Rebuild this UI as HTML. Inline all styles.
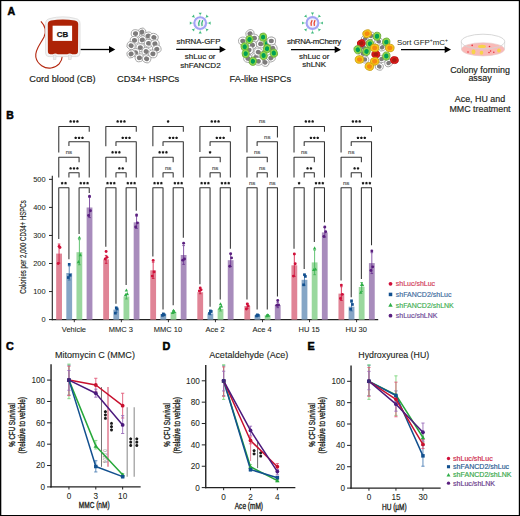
<!DOCTYPE html>
<html><head><meta charset="utf-8"><style>
html,body{margin:0;padding:0;background:#fff;}
svg{display:block;}
svg text{font-family:"Liberation Sans",sans-serif;}
</style></head><body>
<svg width="520" height="516" viewBox="0 0 520 516">
<rect x="0" y="0" width="520" height="516" fill="#fff"/>
<text x="7.40" y="14.70" font-size="10.6" fill="#000" stroke="#000" stroke-width="0.5" text-anchor="start" font-weight="bold" >A</text>
<g>
<path d="M40.9,21.3 C45.5,26 46.5,31.5 44,37 C40.5,44 34.5,50 35.8,57 C37.2,64.5 45,69 51,68 C58,67 62,62 62.3,56" fill="none" stroke="#b52a12" stroke-width="1.15"/>
<path d="M45.6,23.5 Q45.6,19.5 50,18.5 Q62.8,15.2 75.5,18.5 Q80,19.5 80,23.5 L80,53 Q80,56.6 76.5,56.6 L49,56.6 Q45.6,56.6 45.6,53 Z" fill="#f4f4f4" stroke="#dcdcdc" stroke-width="0.9"/>
<rect x="53.2" y="55" width="2.8" height="4.6" fill="#ececec" stroke="#d2d2d2" stroke-width="0.5"/>
<rect x="68.4" y="55" width="2.8" height="4.6" fill="#ececec" stroke="#d2d2d2" stroke-width="0.5"/>
<path d="M47.8,24 Q47.8,21.2 51,20.6 Q62.8,18.2 74.8,20.6 Q78.2,21.2 78.2,24 L78,51.3 Q78,54.3 75.2,54.3 L72.3,54.3 Q69.8,52.8 67.3,54.3 L57.8,54.3 Q55.3,52.8 52.8,54.3 L50.6,54.3 Q47.9,54.3 47.9,51.3 Z" fill="#ad2306"/>
<rect x="52.6" y="25.7" width="19.5" height="15.2" fill="#fff"/>
<text x="62.50" y="36.90" font-size="7.9" fill="#111" stroke="#111" stroke-width="0.25" text-anchor="middle" font-weight="bold" >CB</text>
</g>
<text x="29.30" y="82.40" font-size="9.2" fill="#231f20" stroke="#231f20" stroke-width="0.18" text-anchor="start" font-weight="normal" >Cord blood (CB)</text>
<line x1="80.7" y1="49.5" x2="109.5" y2="49.5" stroke="#000" stroke-width="1.3"/>
<path d="M109.0,46.1 L115.3,49.5 L109.0,52.9 Z" fill="#000"/>
<g transform="translate(141.80,32.10) rotate(-30)"><ellipse rx="4.3" ry="3.9" fill="#ffffff" stroke="#9b9b9b" stroke-width="0.8"/><ellipse rx="2.58" ry="2.34" fill="#7d7b7b"/></g>
<g transform="translate(135.50,33.60) rotate(7)"><ellipse rx="4.3" ry="3.9" fill="#ffffff" stroke="#9b9b9b" stroke-width="0.8"/><ellipse rx="2.58" ry="2.34" fill="#7d7b7b"/></g>
<g transform="translate(148.10,36.00) rotate(-16)"><ellipse rx="4.3" ry="3.9" fill="#ffffff" stroke="#9b9b9b" stroke-width="0.8"/><ellipse rx="2.58" ry="2.34" fill="#7d7b7b"/></g>
<g transform="translate(153.90,37.40) rotate(21)"><ellipse rx="4.3" ry="3.9" fill="#ffffff" stroke="#9b9b9b" stroke-width="0.8"/><ellipse rx="2.58" ry="2.34" fill="#7d7b7b"/></g>
<g transform="translate(134.50,40.30) rotate(-2)"><ellipse rx="4.3" ry="3.9" fill="#ffffff" stroke="#9b9b9b" stroke-width="0.8"/><ellipse rx="2.58" ry="2.34" fill="#7d7b7b"/></g>
<g transform="translate(142.30,39.90) rotate(-25)"><ellipse rx="4.3" ry="3.9" fill="#ffffff" stroke="#9b9b9b" stroke-width="0.8"/><ellipse rx="2.58" ry="2.34" fill="#7d7b7b"/></g>
<g transform="translate(148.60,43.30) rotate(12)"><ellipse rx="4.3" ry="3.9" fill="#ffffff" stroke="#9b9b9b" stroke-width="0.8"/><ellipse rx="2.58" ry="2.34" fill="#7d7b7b"/></g>
<g transform="translate(154.90,43.70) rotate(-11)"><ellipse rx="4.3" ry="3.9" fill="#ffffff" stroke="#9b9b9b" stroke-width="0.8"/><ellipse rx="2.58" ry="2.34" fill="#7d7b7b"/></g>
<g transform="translate(131.10,45.70) rotate(26)"><ellipse rx="4.3" ry="3.9" fill="#ffffff" stroke="#9b9b9b" stroke-width="0.8"/><ellipse rx="2.58" ry="2.34" fill="#7d7b7b"/></g>
<g transform="translate(140.30,47.60) rotate(3)"><ellipse rx="4.3" ry="3.9" fill="#ffffff" stroke="#9b9b9b" stroke-width="0.8"/><ellipse rx="2.58" ry="2.34" fill="#7d7b7b"/></g>
<g transform="translate(156.80,49.10) rotate(-20)"><ellipse rx="4.3" ry="3.9" fill="#ffffff" stroke="#9b9b9b" stroke-width="0.8"/><ellipse rx="2.58" ry="2.34" fill="#7d7b7b"/></g>
<g transform="translate(146.20,51.50) rotate(17)"><ellipse rx="4.3" ry="3.9" fill="#ffffff" stroke="#9b9b9b" stroke-width="0.8"/><ellipse rx="2.58" ry="2.34" fill="#7d7b7b"/></g>
<g transform="translate(135.50,52.50) rotate(-6)"><ellipse rx="4.3" ry="3.9" fill="#ffffff" stroke="#9b9b9b" stroke-width="0.8"/><ellipse rx="2.58" ry="2.34" fill="#7d7b7b"/></g>
<g transform="translate(131.10,53.90) rotate(-29)"><ellipse rx="4.3" ry="3.9" fill="#ffffff" stroke="#9b9b9b" stroke-width="0.8"/><ellipse rx="2.58" ry="2.34" fill="#7d7b7b"/></g>
<g transform="translate(152.90,53.90) rotate(8)"><ellipse rx="4.3" ry="3.9" fill="#ffffff" stroke="#9b9b9b" stroke-width="0.8"/><ellipse rx="2.58" ry="2.34" fill="#7d7b7b"/></g>
<g transform="translate(139.40,57.80) rotate(-15)"><ellipse rx="4.3" ry="3.9" fill="#ffffff" stroke="#9b9b9b" stroke-width="0.8"/><ellipse rx="2.58" ry="2.34" fill="#7d7b7b"/></g>
<g transform="translate(146.60,58.80) rotate(22)"><ellipse rx="4.3" ry="3.9" fill="#ffffff" stroke="#9b9b9b" stroke-width="0.8"/><ellipse rx="2.58" ry="2.34" fill="#7d7b7b"/></g>
<text x="117.00" y="82.20" font-size="9.3" fill="#231f20" stroke="#231f20" stroke-width="0.18" text-anchor="start" font-weight="normal" >CD34+ HSPCs</text>
<line x1="200.20" y1="17.10" x2="200.20" y2="14.60" stroke="#8fdcae" stroke-width="0.6"/>
<path d="M200.20,15.10 L201.80,12.70 L198.60,12.70 Z" fill="#41bb7f"/>
<line x1="204.44" y1="18.86" x2="206.21" y2="17.09" stroke="#8fdcae" stroke-width="0.6"/>
<path d="M205.86,17.44 L208.69,16.88 L206.42,14.61 Z" fill="#41bb7f"/>
<line x1="206.20" y1="23.10" x2="208.70" y2="23.10" stroke="#8fdcae" stroke-width="0.6"/>
<path d="M208.20,23.10 L210.60,24.70 L210.60,21.50 Z" fill="#41bb7f"/>
<line x1="204.44" y1="27.34" x2="206.21" y2="29.11" stroke="#8fdcae" stroke-width="0.6"/>
<path d="M205.86,28.76 L206.42,31.59 L208.69,29.32 Z" fill="#41bb7f"/>
<line x1="200.20" y1="29.10" x2="200.20" y2="31.60" stroke="#8fdcae" stroke-width="0.6"/>
<path d="M200.20,31.10 L198.60,33.50 L201.80,33.50 Z" fill="#41bb7f"/>
<line x1="195.96" y1="27.34" x2="194.19" y2="29.11" stroke="#8fdcae" stroke-width="0.6"/>
<path d="M194.54,28.76 L191.71,29.32 L193.98,31.59 Z" fill="#41bb7f"/>
<line x1="194.20" y1="23.10" x2="191.70" y2="23.10" stroke="#8fdcae" stroke-width="0.6"/>
<path d="M192.20,23.10 L189.80,21.50 L189.80,24.70 Z" fill="#41bb7f"/>
<line x1="195.96" y1="18.86" x2="194.19" y2="17.09" stroke="#8fdcae" stroke-width="0.6"/>
<path d="M194.54,17.44 L193.98,14.61 L191.71,16.88 Z" fill="#41bb7f"/>
<circle cx="200.2" cy="23.1" r="5.9" fill="#f3f1fb" stroke="#a3a3f5" stroke-width="2.1"/>
<path d="M199.0,26.0 Q198.0,23.1 199.89999999999998,20.200000000000003 M202.1,26.0 Q201.1,23.1 202.79999999999998,20.200000000000003" fill="none" stroke="#2ab46a" stroke-width="1.2"/>
<text x="198.50" y="44.40" font-size="7.9" fill="#231f20" stroke="#231f20" stroke-width="0.18" text-anchor="middle" font-weight="normal" >shRNA-GFP</text>
<line x1="176.2" y1="49.4" x2="220.1" y2="49.4" stroke="#000" stroke-width="1.3"/>
<path d="M219.6,46.0 L225.9,49.4 L219.6,52.8 Z" fill="#000"/>
<text x="200.20" y="58.80" font-size="8.0" fill="#231f20" stroke="#231f20" stroke-width="0.18" text-anchor="middle" font-weight="normal" >shLuc or</text>
<text x="200.40" y="67.50" font-size="8.1" fill="#231f20" stroke="#231f20" stroke-width="0.18" text-anchor="middle" font-weight="normal" >shFANCD2</text>
<g transform="translate(249.00,51.00) rotate(-30)"><ellipse rx="4.3" ry="3.9" fill="#ffffff" stroke="#9b9b9b" stroke-width="0.8"/><ellipse rx="2.58" ry="2.34" fill="#7d7b7b"/></g>
<g transform="translate(248.00,58.50) rotate(11)"><ellipse rx="4.3" ry="3.9" fill="#ffffff" stroke="#9b9b9b" stroke-width="0.8"/><ellipse rx="2.58" ry="2.34" fill="#7d7b7b"/></g>
<g transform="translate(256.00,57.00) rotate(-8)"><ellipse rx="4.3" ry="3.9" fill="#ffffff" stroke="#9b9b9b" stroke-width="0.8"/><ellipse rx="2.58" ry="2.34" fill="#7d7b7b"/></g>
<g transform="translate(250.00,33.70) rotate(-27)"><ellipse rx="4.3" ry="3.9" fill="#ffffff" stroke="#9b9b9b" stroke-width="0.8"/><ellipse rx="2.58" ry="2.34" fill="#7d7b7b"/></g>
<g transform="translate(254.40,38.10) rotate(14)"><ellipse rx="4.3" ry="3.9" fill="#ffffff" stroke="#9b9b9b" stroke-width="0.8"/><ellipse rx="2.58" ry="2.34" fill="#7d7b7b"/></g>
<g transform="translate(242.80,41.00) rotate(-5)"><ellipse rx="4.3" ry="3.9" fill="#ffffff" stroke="#9b9b9b" stroke-width="0.8"/><ellipse rx="2.58" ry="2.34" fill="#7d7b7b"/></g>
<g transform="translate(252.40,45.30) rotate(-24)"><ellipse rx="4.3" ry="3.9" fill="#ffffff" stroke="#9b9b9b" stroke-width="0.8"/><ellipse rx="2.58" ry="2.34" fill="#7d7b7b"/></g>
<g transform="translate(260.70,43.90) rotate(17)"><ellipse rx="4.3" ry="3.9" fill="#ffffff" stroke="#9b9b9b" stroke-width="0.8"/><ellipse rx="2.58" ry="2.34" fill="#7d7b7b"/></g>
<g transform="translate(271.30,41.00) rotate(-2)"><ellipse rx="4.3" ry="3.9" fill="#ffffff" stroke="#9b9b9b" stroke-width="0.8"/><ellipse rx="2.58" ry="2.34" fill="#7d7b7b"/></g>
<g transform="translate(272.80,48.30) rotate(-21)"><ellipse rx="4.3" ry="3.9" fill="#ffffff" stroke="#9b9b9b" stroke-width="0.8"/><ellipse rx="2.58" ry="2.34" fill="#7d7b7b"/></g>
<g transform="translate(258.30,52.10) rotate(20)"><ellipse rx="4.3" ry="3.9" fill="#ffffff" stroke="#9b9b9b" stroke-width="0.8"/><ellipse rx="2.58" ry="2.34" fill="#7d7b7b"/></g>
<g transform="translate(249.00,50.00) rotate(1)"><ellipse rx="4.3" ry="3.9" fill="#ffffff" stroke="#9b9b9b" stroke-width="0.8"/><ellipse rx="2.58" ry="2.34" fill="#7d7b7b"/></g>
<g transform="translate(270.90,58.00) rotate(-18)"><ellipse rx="4.3" ry="3.9" fill="#ffffff" stroke="#9b9b9b" stroke-width="0.8"/><ellipse rx="2.58" ry="2.34" fill="#7d7b7b"/></g>
<g transform="translate(265.00,62.30) rotate(23)"><ellipse rx="4.3" ry="3.9" fill="#ffffff" stroke="#9b9b9b" stroke-width="0.8"/><ellipse rx="2.58" ry="2.34" fill="#7d7b7b"/></g>
<g transform="translate(258.30,61.30) rotate(4)"><ellipse rx="4.3" ry="3.9" fill="#ffffff" stroke="#9b9b9b" stroke-width="0.8"/><ellipse rx="2.58" ry="2.34" fill="#7d7b7b"/></g>
<g transform="translate(267.00,43.50) rotate(0)"><ellipse rx="3.5" ry="4.0" fill="#8fd84a" stroke="#6aa83a" stroke-width="0.8"/><ellipse rx="2.10" ry="2.40" fill="#00a055"/></g>
<g transform="translate(271.30,41.00) rotate(0)"><ellipse rx="4.3" ry="3.9" fill="#ffffff" stroke="#9b9b9b" stroke-width="0.8"/><ellipse rx="2.58" ry="2.34" fill="#7d7b7b"/></g>
<g transform="translate(249.50,39.50) rotate(9)"><ellipse rx="3.6" ry="4.1" fill="#8fd84a" stroke="#6aa83a" stroke-width="0.8"/><ellipse rx="2.16" ry="2.46" fill="#00a055"/></g>
<g transform="translate(263.10,37.10) rotate(-2)"><ellipse rx="3.6" ry="4.1" fill="#8fd84a" stroke="#6aa83a" stroke-width="0.8"/><ellipse rx="2.16" ry="2.46" fill="#00a055"/></g>
<g transform="translate(244.70,46.80) rotate(-13)"><ellipse rx="3.6" ry="4.1" fill="#8fd84a" stroke="#6aa83a" stroke-width="0.8"/><ellipse rx="2.16" ry="2.46" fill="#00a055"/></g>
<g transform="translate(267.00,48.70) rotate(16)"><ellipse rx="3.6" ry="4.1" fill="#8fd84a" stroke="#6aa83a" stroke-width="0.8"/><ellipse rx="2.16" ry="2.46" fill="#00a055"/></g>
<g transform="translate(245.70,53.60) rotate(5)"><ellipse rx="3.6" ry="4.1" fill="#8fd84a" stroke="#6aa83a" stroke-width="0.8"/><ellipse rx="2.16" ry="2.46" fill="#00a055"/></g>
<g transform="translate(263.60,55.50) rotate(-6)"><ellipse rx="3.6" ry="4.1" fill="#8fd84a" stroke="#6aa83a" stroke-width="0.8"/><ellipse rx="2.16" ry="2.46" fill="#00a055"/></g>
<g transform="translate(273.80,53.10) rotate(-17)"><ellipse rx="3.6" ry="4.1" fill="#8fd84a" stroke="#6aa83a" stroke-width="0.8"/><ellipse rx="2.16" ry="2.46" fill="#00a055"/></g>
<g transform="translate(252.90,61.30) rotate(12)"><ellipse rx="3.6" ry="4.1" fill="#8fd84a" stroke="#6aa83a" stroke-width="0.8"/><ellipse rx="2.16" ry="2.46" fill="#00a055"/></g>
<text x="229.60" y="82.30" font-size="9.3" fill="#231f20" stroke="#231f20" stroke-width="0.18" text-anchor="start" font-weight="normal" >FA-like HSPCs</text>
<line x1="312.50" y1="17.00" x2="312.50" y2="14.50" stroke="#8fdcae" stroke-width="0.6"/>
<path d="M312.50,15.00 L314.10,12.60 L310.90,12.60 Z" fill="#41bb7f"/>
<line x1="316.74" y1="18.76" x2="318.51" y2="16.99" stroke="#8fdcae" stroke-width="0.6"/>
<path d="M318.16,17.34 L320.99,16.78 L318.72,14.51 Z" fill="#41bb7f"/>
<line x1="318.50" y1="23.00" x2="321.00" y2="23.00" stroke="#8fdcae" stroke-width="0.6"/>
<path d="M320.50,23.00 L322.90,24.60 L322.90,21.40 Z" fill="#41bb7f"/>
<line x1="316.74" y1="27.24" x2="318.51" y2="29.01" stroke="#8fdcae" stroke-width="0.6"/>
<path d="M318.16,28.66 L318.72,31.49 L320.99,29.22 Z" fill="#41bb7f"/>
<line x1="312.50" y1="29.00" x2="312.50" y2="31.50" stroke="#8fdcae" stroke-width="0.6"/>
<path d="M312.50,31.00 L310.90,33.40 L314.10,33.40 Z" fill="#41bb7f"/>
<line x1="308.26" y1="27.24" x2="306.49" y2="29.01" stroke="#8fdcae" stroke-width="0.6"/>
<path d="M306.84,28.66 L304.01,29.22 L306.28,31.49 Z" fill="#41bb7f"/>
<line x1="306.50" y1="23.00" x2="304.00" y2="23.00" stroke="#8fdcae" stroke-width="0.6"/>
<path d="M304.50,23.00 L302.10,21.40 L302.10,24.60 Z" fill="#41bb7f"/>
<line x1="308.26" y1="18.76" x2="306.49" y2="16.99" stroke="#8fdcae" stroke-width="0.6"/>
<path d="M306.84,17.34 L306.28,14.51 L304.01,16.78 Z" fill="#41bb7f"/>
<circle cx="312.5" cy="23.0" r="5.9" fill="#f3f1fb" stroke="#a3a3f5" stroke-width="2.1"/>
<path d="M311.3,25.9 Q310.3,23.0 312.2,20.1 M314.4,25.9 Q313.4,23.0 315.1,20.1" fill="none" stroke="#e8402a" stroke-width="1.2"/>
<text x="314.00" y="44.30" font-size="7.9" fill="#231f20" stroke="#231f20" stroke-width="0.18" text-anchor="middle" font-weight="normal" letter-spacing="-0.3">shRNA-mCherry</text>
<line x1="291" y1="49.7" x2="335.2" y2="49.7" stroke="#000" stroke-width="1.3"/>
<path d="M334.7,46.300000000000004 L341,49.7 L334.7,53.1 Z" fill="#000"/>
<text x="314.20" y="58.50" font-size="7.9" fill="#231f20" stroke="#231f20" stroke-width="0.18" text-anchor="middle" font-weight="normal" >shLuc or</text>
<text x="314.20" y="67.30" font-size="7.9" fill="#231f20" stroke="#231f20" stroke-width="0.18" text-anchor="middle" font-weight="normal" >shLNK</text>
<g transform="translate(365.30,38.60) rotate(-30)"><ellipse rx="4.0" ry="3.6" fill="#ffffff" stroke="#9b9b9b" stroke-width="0.8"/><ellipse rx="2.40" ry="2.16" fill="#7d7b7b"/></g>
<g transform="translate(378.70,41.50) rotate(11)"><ellipse rx="4.0" ry="3.6" fill="#ffffff" stroke="#9b9b9b" stroke-width="0.8"/><ellipse rx="2.40" ry="2.16" fill="#7d7b7b"/></g>
<g transform="translate(363.60,47.30) rotate(-8)"><ellipse rx="4.0" ry="3.6" fill="#ffffff" stroke="#9b9b9b" stroke-width="0.8"/><ellipse rx="2.40" ry="2.16" fill="#7d7b7b"/></g>
<g transform="translate(382.20,47.30) rotate(-27)"><ellipse rx="4.0" ry="3.6" fill="#ffffff" stroke="#9b9b9b" stroke-width="0.8"/><ellipse rx="2.40" ry="2.16" fill="#7d7b7b"/></g>
<g transform="translate(363.00,53.70) rotate(14)"><ellipse rx="4.0" ry="3.6" fill="#ffffff" stroke="#9b9b9b" stroke-width="0.8"/><ellipse rx="2.40" ry="2.16" fill="#7d7b7b"/></g>
<g transform="translate(381.60,59.00) rotate(-5)"><ellipse rx="4.0" ry="3.6" fill="#ffffff" stroke="#9b9b9b" stroke-width="0.8"/><ellipse rx="2.40" ry="2.16" fill="#7d7b7b"/></g>
<g transform="translate(388.60,63.00) rotate(-24)"><ellipse rx="4.0" ry="3.6" fill="#ffffff" stroke="#9b9b9b" stroke-width="0.8"/><ellipse rx="2.40" ry="2.16" fill="#7d7b7b"/></g>
<g transform="translate(379.30,66.50) rotate(17)"><ellipse rx="4.0" ry="3.6" fill="#ffffff" stroke="#9b9b9b" stroke-width="0.8"/><ellipse rx="2.40" ry="2.16" fill="#7d7b7b"/></g>
<g transform="translate(364.80,59.50) rotate(-2)"><ellipse rx="4.0" ry="3.6" fill="#ffffff" stroke="#9b9b9b" stroke-width="0.8"/><ellipse rx="2.40" ry="2.16" fill="#7d7b7b"/></g>
<g transform="translate(371.00,36.00) rotate(-21)"><ellipse rx="4.0" ry="3.6" fill="#ffffff" stroke="#9b9b9b" stroke-width="0.8"/><ellipse rx="2.40" ry="2.16" fill="#7d7b7b"/></g>
<g transform="translate(361.30,43.30) rotate(-20)"><ellipse rx="4.0" ry="3.5" fill="#e21a1a" stroke="#b01010" stroke-width="0.8"/><ellipse rx="2.40" ry="2.10" fill="#a81b10"/></g>
<g transform="translate(375.80,54.30) rotate(9)"><ellipse rx="4.0" ry="3.5" fill="#e21a1a" stroke="#b01010" stroke-width="0.8"/><ellipse rx="2.40" ry="2.10" fill="#a81b10"/></g>
<g transform="translate(394.40,60.10) rotate(-2)"><ellipse rx="4.0" ry="3.5" fill="#e21a1a" stroke="#b01010" stroke-width="0.8"/><ellipse rx="2.40" ry="2.10" fill="#a81b10"/></g>
<g transform="translate(357.80,49.70) rotate(-20)"><ellipse rx="3.7" ry="4.1" fill="#8fd84a" stroke="#6aa83a" stroke-width="0.8"/><ellipse rx="2.22" ry="2.46" fill="#00a055"/></g>
<g transform="translate(377.00,36.30) rotate(9)"><ellipse rx="3.7" ry="4.1" fill="#8fd84a" stroke="#6aa83a" stroke-width="0.8"/><ellipse rx="2.22" ry="2.46" fill="#00a055"/></g>
<g transform="translate(386.30,42.10) rotate(-2)"><ellipse rx="3.7" ry="4.1" fill="#8fd84a" stroke="#6aa83a" stroke-width="0.8"/><ellipse rx="2.22" ry="2.46" fill="#00a055"/></g>
<g transform="translate(370.00,43.80) rotate(-13)"><ellipse rx="3.7" ry="4.1" fill="#8fd84a" stroke="#6aa83a" stroke-width="0.8"/><ellipse rx="2.22" ry="2.46" fill="#00a055"/></g>
<g transform="translate(366.50,51.40) rotate(16)"><ellipse rx="3.7" ry="4.1" fill="#8fd84a" stroke="#6aa83a" stroke-width="0.8"/><ellipse rx="2.22" ry="2.46" fill="#00a055"/></g>
<g transform="translate(386.30,56.00) rotate(5)"><ellipse rx="3.7" ry="4.1" fill="#8fd84a" stroke="#6aa83a" stroke-width="0.8"/><ellipse rx="2.22" ry="2.46" fill="#00a055"/></g>
<g transform="translate(367.10,33.70) rotate(-20)"><ellipse rx="4.3" ry="3.8" fill="#f7c81a" stroke="#c89a10" stroke-width="0.8"/><ellipse rx="2.58" ry="2.28" fill="#f58a10"/></g>
<g transform="translate(389.80,47.90) rotate(9)"><ellipse rx="4.3" ry="3.8" fill="#f7c81a" stroke="#c89a10" stroke-width="0.8"/><ellipse rx="2.58" ry="2.28" fill="#f58a10"/></g>
<g transform="translate(359.50,59.50) rotate(-2)"><ellipse rx="4.3" ry="3.8" fill="#f7c81a" stroke="#c89a10" stroke-width="0.8"/><ellipse rx="2.58" ry="2.28" fill="#f58a10"/></g>
<g transform="translate(374.70,61.30) rotate(-13)"><ellipse rx="4.3" ry="3.8" fill="#f7c81a" stroke="#c89a10" stroke-width="0.8"/><ellipse rx="2.58" ry="2.28" fill="#f58a10"/></g>
<g transform="translate(369.40,66.50) rotate(16)"><ellipse rx="4.3" ry="3.8" fill="#f7c81a" stroke="#c89a10" stroke-width="0.8"/><ellipse rx="2.58" ry="2.28" fill="#f58a10"/></g>
<g transform="translate(374.70,47.90) rotate(5)"><ellipse rx="4.3" ry="3.8" fill="#f7c81a" stroke="#c89a10" stroke-width="0.8"/><ellipse rx="2.58" ry="2.28" fill="#f58a10"/></g>
<text x="396.9" y="44.6" font-size="7.9" fill="#231f20">Sort GFP<tspan font-size="5" dy="-3">+</tspan><tspan dy="3">mC</tspan><tspan font-size="5" dy="-3">+</tspan></text>
<line x1="401" y1="49.6" x2="445.2" y2="49.6" stroke="#000" stroke-width="1.3"/>
<path d="M444.7,46.2 L451,49.6 L444.7,53.0 Z" fill="#000"/>
<ellipse cx="483" cy="49.3" rx="21.5" ry="6.6" fill="#f9b9b6" stroke="#e6c9c9" stroke-width="0.6"/>
<path d="M461.3,41.6 L461.5,49.3 M504.7,41.6 L504.5,49.3" stroke="#d6d6d6" stroke-width="0.7"/>
<ellipse cx="482" cy="46.4" rx="4" ry="1.7" fill="#f7d24a"/>
<ellipse cx="473.5" cy="51.7" rx="2" ry="2.5" fill="#f7d24a"/>
<ellipse cx="481.5" cy="52.8" rx="1.8" ry="2" fill="#f7d24a"/>
<ellipse cx="498.9" cy="50.6" rx="1.8" ry="2" fill="#f7d24a"/>
<circle cx="472.2" cy="45.4" r="0.8" fill="#e8303a"/>
<circle cx="468" cy="52" r="0.8" fill="#e8303a"/>
<circle cx="490.6" cy="51" r="0.8" fill="#e8303a"/>
<circle cx="489.5" cy="46.5" r="0.8" fill="#e8303a"/>
<circle cx="489" cy="52.5" r="0.8" fill="#e8303a"/>
<circle cx="493.8" cy="52.3" r="0.8" fill="#e8303a"/>
<ellipse cx="483" cy="41.6" rx="21.7" ry="7.4" fill="none" stroke="#d2d2d2" stroke-width="0.9"/>
<text x="480.00" y="72.90" font-size="8.9" fill="#231f20" stroke="#231f20" stroke-width="0.18" text-anchor="middle" font-weight="normal" >Colony forming</text>
<text x="480.00" y="81.20" font-size="8.9" fill="#231f20" stroke="#231f20" stroke-width="0.18" text-anchor="middle" font-weight="normal" >assay</text>
<text x="480.00" y="101.70" font-size="8.9" fill="#231f20" stroke="#231f20" stroke-width="0.18" text-anchor="middle" font-weight="normal" >Ace, HU and</text>
<text x="480.00" y="111.50" font-size="8.9" fill="#231f20" stroke="#231f20" stroke-width="0.18" text-anchor="middle" font-weight="normal" >MMC treatment</text>
<text x="6.30" y="119.20" font-size="10.4" fill="#000" stroke="#000" stroke-width="0.5" text-anchor="start" font-weight="bold" >B</text>
<line x1="52.3" y1="175.7" x2="52.3" y2="320.2" stroke="#222" stroke-width="1.1"/>
<line x1="51.75" y1="319.6" x2="378.2" y2="319.6" stroke="#222" stroke-width="1.1"/>
<line x1="49" y1="319.60" x2="52.3" y2="319.60" stroke="#222" stroke-width="1"/>
<text x="45.50" y="322.30" font-size="7.4" fill="#231f20" stroke="#231f20" stroke-width="0.05" text-anchor="end" font-weight="normal" >0</text>
<line x1="49" y1="291.55" x2="52.3" y2="291.55" stroke="#222" stroke-width="1"/>
<text x="45.50" y="294.25" font-size="7.4" fill="#231f20" stroke="#231f20" stroke-width="0.05" text-anchor="end" font-weight="normal" >100</text>
<line x1="49" y1="263.50" x2="52.3" y2="263.50" stroke="#222" stroke-width="1"/>
<text x="45.50" y="266.20" font-size="7.4" fill="#231f20" stroke="#231f20" stroke-width="0.05" text-anchor="end" font-weight="normal" >200</text>
<line x1="49" y1="235.45" x2="52.3" y2="235.45" stroke="#222" stroke-width="1"/>
<text x="45.50" y="238.15" font-size="7.4" fill="#231f20" stroke="#231f20" stroke-width="0.05" text-anchor="end" font-weight="normal" >300</text>
<line x1="49" y1="207.40" x2="52.3" y2="207.40" stroke="#222" stroke-width="1"/>
<text x="45.50" y="210.10" font-size="7.4" fill="#231f20" stroke="#231f20" stroke-width="0.05" text-anchor="end" font-weight="normal" >400</text>
<line x1="49" y1="179.35" x2="52.3" y2="179.35" stroke="#222" stroke-width="1"/>
<text x="45.50" y="182.05" font-size="7.4" fill="#231f20" stroke="#231f20" stroke-width="0.05" text-anchor="end" font-weight="normal" >500</text>
<text transform="translate(26.2,247) rotate(-90) scale(0.71,1)" font-size="8.6" fill="#231f20" stroke="#231f20" stroke-width="0.15" text-anchor="middle">Colonies per 2,000 CD34+ HSPCs</text>
<rect x="56.17" y="253.60" width="5.8" height="66.00" fill="#e08496"/>
<rect x="66.32" y="273.00" width="5.8" height="46.60" fill="#86a6c6"/>
<rect x="76.47" y="252.20" width="5.8" height="67.40" fill="#9ad89e"/>
<rect x="86.62" y="207.50" width="5.8" height="112.10" fill="#a88cbc"/>
<line x1="59.07" y1="244.03" x2="59.07" y2="263.17" stroke="#d0103a" stroke-width="0.8"/>
<line x1="57.77" y1="244.03" x2="60.37" y2="244.03" stroke="#d0103a" stroke-width="0.8"/>
<line x1="57.77" y1="263.17" x2="60.37" y2="263.17" stroke="#d0103a" stroke-width="0.8"/>
<circle cx="59.07" cy="246.39" r="1.45" fill="#d0103a"/>
<circle cx="59.97" cy="247.51" r="1.45" fill="#d0103a"/>
<circle cx="58.17" cy="263.50" r="1.45" fill="#d0103a"/>
<line x1="69.22" y1="265.95" x2="69.22" y2="280.05" stroke="#3a70a8" stroke-width="0.8"/>
<line x1="67.92" y1="265.95" x2="70.52" y2="265.95" stroke="#3a70a8" stroke-width="0.8"/>
<line x1="67.92" y1="280.05" x2="70.52" y2="280.05" stroke="#3a70a8" stroke-width="0.8"/>
<rect x="67.88" y="262.99" width="2.70" height="2.70" fill="#12508f"/>
<rect x="68.78" y="273.93" width="2.70" height="2.70" fill="#12508f"/>
<rect x="66.97" y="276.18" width="2.70" height="2.70" fill="#12508f"/>
<line x1="79.38" y1="239.64" x2="79.38" y2="264.76" stroke="#3cb450" stroke-width="0.8"/>
<line x1="78.08" y1="239.64" x2="80.67" y2="239.64" stroke="#3cb450" stroke-width="0.8"/>
<line x1="78.08" y1="264.76" x2="80.67" y2="264.76" stroke="#3cb450" stroke-width="0.8"/>
<path d="M79.38,235.71 L81.08,238.77 L77.67,238.77 Z" fill="#2fae48"/>
<path d="M80.28,253.10 L81.98,256.16 L78.58,256.16 Z" fill="#2fae48"/>
<path d="M78.47,260.12 L80.17,263.18 L76.77,263.18 Z" fill="#2fae48"/>
<line x1="89.53" y1="197.42" x2="89.53" y2="217.58" stroke="#6a3090" stroke-width="0.8"/>
<line x1="88.23" y1="197.42" x2="90.83" y2="197.42" stroke="#6a3090" stroke-width="0.8"/>
<line x1="88.23" y1="217.58" x2="90.83" y2="217.58" stroke="#6a3090" stroke-width="0.8"/>
<circle cx="89.53" cy="196.18" r="1.45" fill="#5a1f7f"/>
<circle cx="90.43" cy="210.77" r="1.45" fill="#5a1f7f"/>
<circle cx="88.62" cy="215.53" r="1.45" fill="#5a1f7f"/>
<path d="M58.77,152.50 L58.77,126.50 L89.23,126.50 L89.23,131.70" fill="none" stroke="#333333" stroke-width="1.05" stroke-linejoin="round"/>
<path d="M68.92,146.00 L68.92,141.80 L89.23,141.80 L89.23,177.50" fill="none" stroke="#333333" stroke-width="1.05" stroke-linejoin="round"/>
<path d="M58.77,177.50 L58.77,157.20 L79.08,157.20 L79.08,162.20" fill="none" stroke="#333333" stroke-width="1.05" stroke-linejoin="round"/>
<path d="M68.92,177.50 L68.92,172.80 L79.08,172.80 L79.08,177.50" fill="none" stroke="#333333" stroke-width="1.05" stroke-linejoin="round"/>
<path d="M58.77,239.10 L58.77,187.70 L68.92,187.70 L68.92,259.20" fill="none" stroke="#333333" stroke-width="1.05" stroke-linejoin="round"/>
<path d="M79.08,233.90 L79.08,187.70 L89.23,187.70 L89.23,192.90" fill="none" stroke="#333333" stroke-width="1.05" stroke-linejoin="round"/>
<polygon points="70.60,120.00 71.25,120.60 72.03,121.04 71.66,121.84 71.48,122.71 70.60,122.61 69.72,122.71 69.54,121.84 69.17,121.04 69.95,120.60" fill="#1a1a1a"/>
<polygon points="74.00,120.00 74.65,120.60 75.43,121.04 75.06,121.84 74.88,122.71 74.00,122.61 73.12,122.71 72.94,121.84 72.57,121.04 73.35,120.60" fill="#1a1a1a"/>
<polygon points="77.40,120.00 78.05,120.60 78.83,121.04 78.46,121.84 78.28,122.71 77.40,122.61 76.52,122.71 76.34,121.84 75.97,121.04 76.75,120.60" fill="#1a1a1a"/>
<polygon points="75.67,136.40 76.33,137.00 77.10,137.44 76.73,138.24 76.56,139.11 75.67,139.01 74.79,139.11 74.62,138.24 74.25,137.44 75.02,137.00" fill="#1a1a1a"/>
<polygon points="79.08,136.40 79.73,137.00 80.50,137.44 80.13,138.24 79.96,139.11 79.08,139.01 78.19,139.11 78.02,138.24 77.65,137.44 78.42,137.00" fill="#1a1a1a"/>
<polygon points="82.48,136.40 83.13,137.00 83.90,137.44 83.53,138.24 83.36,139.11 82.48,139.01 81.59,139.11 81.42,138.24 81.05,137.44 81.82,137.00" fill="#1a1a1a"/>
<text x="68.92" y="153.80" font-size="6" fill="#555" stroke="#555" stroke-width="0.18" text-anchor="middle" font-weight="normal" >ns</text>
<polygon points="70.60,166.90 71.25,167.50 72.03,167.94 71.66,168.74 71.48,169.61 70.60,169.51 69.72,169.61 69.54,168.74 69.17,167.94 69.95,167.50" fill="#1a1a1a"/>
<polygon points="74.00,166.90 74.65,167.50 75.43,167.94 75.06,168.74 74.88,169.61 74.00,169.51 73.12,169.61 72.94,168.74 72.57,167.94 73.35,167.50" fill="#1a1a1a"/>
<polygon points="77.40,166.90 78.05,167.50 78.83,167.94 78.46,168.74 78.28,169.61 77.40,169.51 76.52,169.61 76.34,168.74 75.97,167.94 76.75,167.50" fill="#1a1a1a"/>
<polygon points="62.15,181.70 62.80,182.30 63.58,182.74 63.21,183.54 63.03,184.41 62.15,184.31 61.27,184.41 61.09,183.54 60.72,182.74 61.50,182.30" fill="#1a1a1a"/>
<polygon points="65.55,181.70 66.20,182.30 66.98,182.74 66.61,183.54 66.43,184.41 65.55,184.31 64.67,184.41 64.49,183.54 64.12,182.74 64.90,182.30" fill="#1a1a1a"/>
<polygon points="80.75,181.70 81.40,182.30 82.18,182.74 81.81,183.54 81.63,184.41 80.75,184.31 79.87,184.41 79.69,183.54 79.32,182.74 80.10,182.30" fill="#1a1a1a"/>
<polygon points="84.15,181.70 84.80,182.30 85.58,182.74 85.21,183.54 85.03,184.41 84.15,184.31 83.27,184.41 83.09,183.54 82.72,182.74 83.50,182.30" fill="#1a1a1a"/>
<polygon points="87.55,181.70 88.20,182.30 88.98,182.74 88.61,183.54 88.43,184.41 87.55,184.31 86.67,184.41 86.49,183.54 86.12,182.74 86.90,182.30" fill="#1a1a1a"/>
<line x1="74.30" y1="319.6" x2="74.30" y2="322.2" stroke="#222" stroke-width="0.9"/>
<text x="73.90" y="331.70" font-size="7.5" fill="#231f20" stroke="#231f20" stroke-width="0.08" text-anchor="middle" font-weight="normal" >Vehicle</text>
<rect x="103.22" y="259.40" width="5.8" height="60.20" fill="#e08496"/>
<rect x="113.37" y="309.60" width="5.8" height="10.00" fill="#86a6c6"/>
<rect x="123.52" y="296.50" width="5.8" height="23.10" fill="#9ad89e"/>
<rect x="133.67" y="222.30" width="5.8" height="97.30" fill="#a88cbc"/>
<line x1="106.12" y1="255.42" x2="106.12" y2="263.38" stroke="#d0103a" stroke-width="0.8"/>
<line x1="104.83" y1="255.42" x2="107.42" y2="255.42" stroke="#d0103a" stroke-width="0.8"/>
<line x1="104.83" y1="263.38" x2="107.42" y2="263.38" stroke="#d0103a" stroke-width="0.8"/>
<circle cx="106.12" cy="251.44" r="1.45" fill="#d0103a"/>
<circle cx="107.03" cy="257.33" r="1.45" fill="#d0103a"/>
<circle cx="105.22" cy="259.01" r="1.45" fill="#d0103a"/>
<line x1="116.27" y1="306.89" x2="116.27" y2="312.31" stroke="#3a70a8" stroke-width="0.8"/>
<line x1="114.97" y1="306.89" x2="117.57" y2="306.89" stroke="#3a70a8" stroke-width="0.8"/>
<line x1="114.97" y1="312.31" x2="117.57" y2="312.31" stroke="#3a70a8" stroke-width="0.8"/>
<rect x="114.92" y="306.75" width="2.70" height="2.70" fill="#12508f"/>
<rect x="115.83" y="307.59" width="2.70" height="2.70" fill="#12508f"/>
<rect x="114.02" y="311.80" width="2.70" height="2.70" fill="#12508f"/>
<line x1="126.42" y1="294.01" x2="126.42" y2="298.99" stroke="#3cb450" stroke-width="0.8"/>
<line x1="125.12" y1="294.01" x2="127.72" y2="294.01" stroke="#3cb450" stroke-width="0.8"/>
<line x1="125.12" y1="298.99" x2="127.72" y2="298.99" stroke="#3cb450" stroke-width="0.8"/>
<path d="M126.42,288.45 L128.12,291.51 L124.72,291.51 Z" fill="#2fae48"/>
<path d="M127.33,292.09 L129.03,295.15 L125.62,295.15 Z" fill="#2fae48"/>
<path d="M125.52,293.22 L127.22,296.28 L123.82,296.28 Z" fill="#2fae48"/>
<line x1="136.57" y1="216.18" x2="136.57" y2="228.42" stroke="#6a3090" stroke-width="0.8"/>
<line x1="135.27" y1="216.18" x2="137.88" y2="216.18" stroke="#6a3090" stroke-width="0.8"/>
<line x1="135.27" y1="228.42" x2="137.88" y2="228.42" stroke="#6a3090" stroke-width="0.8"/>
<circle cx="136.57" cy="214.97" r="1.45" fill="#5a1f7f"/>
<circle cx="137.47" cy="222.83" r="1.45" fill="#5a1f7f"/>
<circle cx="135.67" cy="227.04" r="1.45" fill="#5a1f7f"/>
<path d="M105.83,146.30 L105.83,126.50 L136.27,126.50 L136.27,131.70" fill="none" stroke="#333333" stroke-width="1.05" stroke-linejoin="round"/>
<path d="M115.97,146.00 L115.97,141.80 L136.27,141.80 L136.27,177.50" fill="none" stroke="#333333" stroke-width="1.05" stroke-linejoin="round"/>
<path d="M105.83,177.50 L105.83,157.20 L126.12,157.20 L126.12,162.20" fill="none" stroke="#333333" stroke-width="1.05" stroke-linejoin="round"/>
<path d="M115.97,177.50 L115.97,172.80 L126.12,172.80 L126.12,177.50" fill="none" stroke="#333333" stroke-width="1.05" stroke-linejoin="round"/>
<path d="M105.83,246.70 L105.83,187.70 L115.97,187.70 L115.97,303.80" fill="none" stroke="#333333" stroke-width="1.05" stroke-linejoin="round"/>
<path d="M126.12,284.90 L126.12,187.70 L136.27,187.70 L136.27,210.70" fill="none" stroke="#333333" stroke-width="1.05" stroke-linejoin="round"/>
<polygon points="117.65,120.00 118.30,120.60 119.08,121.04 118.71,121.84 118.53,122.71 117.65,122.61 116.77,122.71 116.59,121.84 116.22,121.04 117.00,120.60" fill="#1a1a1a"/>
<polygon points="121.05,120.00 121.70,120.60 122.48,121.04 122.11,121.84 121.93,122.71 121.05,122.61 120.17,122.71 119.99,121.84 119.62,121.04 120.40,120.60" fill="#1a1a1a"/>
<polygon points="124.45,120.00 125.10,120.60 125.88,121.04 125.51,121.84 125.33,122.71 124.45,122.61 123.57,122.71 123.39,121.84 123.02,121.04 123.80,120.60" fill="#1a1a1a"/>
<polygon points="122.72,136.40 123.38,137.00 124.15,137.44 123.78,138.24 123.61,139.11 122.72,139.01 121.84,139.11 121.67,138.24 121.30,137.44 122.07,137.00" fill="#1a1a1a"/>
<polygon points="126.12,136.40 126.78,137.00 127.55,137.44 127.18,138.24 127.01,139.11 126.12,139.01 125.24,139.11 125.07,138.24 124.70,137.44 125.47,137.00" fill="#1a1a1a"/>
<polygon points="129.52,136.40 130.18,137.00 130.95,137.44 130.58,138.24 130.41,139.11 129.52,139.01 128.64,139.11 128.47,138.24 128.10,137.44 128.87,137.00" fill="#1a1a1a"/>
<polygon points="112.57,150.80 113.23,151.40 114.00,151.84 113.63,152.64 113.46,153.51 112.57,153.41 111.69,153.51 111.52,152.64 111.15,151.84 111.92,151.40" fill="#1a1a1a"/>
<polygon points="115.97,150.80 116.63,151.40 117.40,151.84 117.03,152.64 116.86,153.51 115.97,153.41 115.09,153.51 114.92,152.64 114.55,151.84 115.32,151.40" fill="#1a1a1a"/>
<polygon points="119.38,150.80 120.03,151.40 120.80,151.84 120.43,152.64 120.26,153.51 119.38,153.41 118.49,153.51 118.32,152.64 117.95,151.84 118.72,151.40" fill="#1a1a1a"/>
<polygon points="119.35,166.90 120.00,167.50 120.78,167.94 120.41,168.74 120.23,169.61 119.35,169.51 118.47,169.61 118.29,168.74 117.92,167.94 118.70,167.50" fill="#1a1a1a"/>
<polygon points="122.75,166.90 123.40,167.50 124.18,167.94 123.81,168.74 123.63,169.61 122.75,169.51 121.87,169.61 121.69,168.74 121.32,167.94 122.10,167.50" fill="#1a1a1a"/>
<polygon points="107.50,181.70 108.15,182.30 108.93,182.74 108.56,183.54 108.38,184.41 107.50,184.31 106.62,184.41 106.44,183.54 106.07,182.74 106.85,182.30" fill="#1a1a1a"/>
<polygon points="110.90,181.70 111.55,182.30 112.33,182.74 111.96,183.54 111.78,184.41 110.90,184.31 110.02,184.41 109.84,183.54 109.47,182.74 110.25,182.30" fill="#1a1a1a"/>
<polygon points="114.30,181.70 114.95,182.30 115.73,182.74 115.36,183.54 115.18,184.41 114.30,184.31 113.42,184.41 113.24,183.54 112.87,182.74 113.65,182.30" fill="#1a1a1a"/>
<polygon points="127.80,181.70 128.45,182.30 129.23,182.74 128.86,183.54 128.68,184.41 127.80,184.31 126.92,184.41 126.74,183.54 126.37,182.74 127.15,182.30" fill="#1a1a1a"/>
<polygon points="131.20,181.70 131.85,182.30 132.63,182.74 132.26,183.54 132.08,184.41 131.20,184.31 130.32,184.41 130.14,183.54 129.77,182.74 130.55,182.30" fill="#1a1a1a"/>
<polygon points="134.60,181.70 135.25,182.30 136.03,182.74 135.66,183.54 135.48,184.41 134.60,184.31 133.72,184.41 133.54,183.54 133.17,182.74 133.95,182.30" fill="#1a1a1a"/>
<line x1="121.35" y1="319.6" x2="121.35" y2="322.2" stroke="#222" stroke-width="0.9"/>
<text x="120.95" y="331.70" font-size="7.5" fill="#231f20" stroke="#231f20" stroke-width="0.08" text-anchor="middle" font-weight="normal" >MMC 3</text>
<rect x="150.27" y="270.30" width="5.8" height="49.30" fill="#e08496"/>
<rect x="160.42" y="314.00" width="5.8" height="5.60" fill="#86a6c6"/>
<rect x="170.57" y="312.00" width="5.8" height="7.60" fill="#9ad89e"/>
<rect x="180.72" y="255.00" width="5.8" height="64.60" fill="#a88cbc"/>
<line x1="153.17" y1="262.17" x2="153.17" y2="278.43" stroke="#d0103a" stroke-width="0.8"/>
<line x1="151.87" y1="262.17" x2="154.47" y2="262.17" stroke="#d0103a" stroke-width="0.8"/>
<line x1="151.87" y1="278.43" x2="154.47" y2="278.43" stroke="#d0103a" stroke-width="0.8"/>
<circle cx="153.17" cy="260.41" r="1.45" fill="#d0103a"/>
<circle cx="154.07" cy="271.92" r="1.45" fill="#d0103a"/>
<circle cx="152.27" cy="276.12" r="1.45" fill="#d0103a"/>
<line x1="163.32" y1="313.29" x2="163.32" y2="314.71" stroke="#3a70a8" stroke-width="0.8"/>
<line x1="162.02" y1="313.29" x2="164.62" y2="313.29" stroke="#3a70a8" stroke-width="0.8"/>
<line x1="162.02" y1="314.71" x2="164.62" y2="314.71" stroke="#3a70a8" stroke-width="0.8"/>
<rect x="161.97" y="312.64" width="2.70" height="2.70" fill="#12508f"/>
<rect x="162.88" y="313.48" width="2.70" height="2.70" fill="#12508f"/>
<rect x="161.07" y="314.04" width="2.70" height="2.70" fill="#12508f"/>
<line x1="173.47" y1="310.87" x2="173.47" y2="313.13" stroke="#3cb450" stroke-width="0.8"/>
<line x1="172.17" y1="310.87" x2="174.77" y2="310.87" stroke="#3cb450" stroke-width="0.8"/>
<line x1="172.17" y1="313.13" x2="174.77" y2="313.13" stroke="#3cb450" stroke-width="0.8"/>
<path d="M173.47,308.64 L175.17,311.70 L171.77,311.70 Z" fill="#2fae48"/>
<path d="M174.37,310.05 L176.07,313.11 L172.67,313.11 Z" fill="#2fae48"/>
<path d="M172.57,310.89 L174.27,313.95 L170.87,313.95 Z" fill="#2fae48"/>
<line x1="183.62" y1="245.59" x2="183.62" y2="264.41" stroke="#6a3090" stroke-width="0.8"/>
<line x1="182.32" y1="245.59" x2="184.92" y2="245.59" stroke="#6a3090" stroke-width="0.8"/>
<line x1="182.32" y1="264.41" x2="184.92" y2="264.41" stroke="#6a3090" stroke-width="0.8"/>
<circle cx="183.62" cy="243.30" r="1.45" fill="#5a1f7f"/>
<circle cx="184.52" cy="259.01" r="1.45" fill="#5a1f7f"/>
<circle cx="182.72" cy="260.13" r="1.45" fill="#5a1f7f"/>
<path d="M152.87,146.30 L152.87,126.50 L183.32,126.50 L183.32,131.70" fill="none" stroke="#333333" stroke-width="1.05" stroke-linejoin="round"/>
<path d="M163.02,146.00 L163.02,141.80 L183.32,141.80 L183.32,177.50" fill="none" stroke="#333333" stroke-width="1.05" stroke-linejoin="round"/>
<path d="M152.87,177.50 L152.87,157.20 L173.17,157.20 L173.17,162.20" fill="none" stroke="#333333" stroke-width="1.05" stroke-linejoin="round"/>
<path d="M163.02,177.50 L163.02,172.80 L173.17,172.80 L173.17,177.50" fill="none" stroke="#333333" stroke-width="1.05" stroke-linejoin="round"/>
<path d="M152.87,256.50 L152.87,187.70 L163.02,187.70 L163.02,309.60" fill="none" stroke="#333333" stroke-width="1.05" stroke-linejoin="round"/>
<path d="M173.17,305.20 L173.17,187.70 L183.32,187.70 L183.32,237.80" fill="none" stroke="#333333" stroke-width="1.05" stroke-linejoin="round"/>
<polygon points="168.10,120.00 168.75,120.60 169.53,121.04 169.16,121.84 168.98,122.71 168.10,122.61 167.22,122.71 167.04,121.84 166.67,121.04 167.45,120.60" fill="#1a1a1a"/>
<polygon points="169.77,136.40 170.43,137.00 171.20,137.44 170.83,138.24 170.66,139.11 169.77,139.01 168.89,139.11 168.72,138.24 168.35,137.44 169.12,137.00" fill="#1a1a1a"/>
<polygon points="173.17,136.40 173.83,137.00 174.60,137.44 174.23,138.24 174.06,139.11 173.17,139.01 172.29,139.11 172.12,138.24 171.75,137.44 172.52,137.00" fill="#1a1a1a"/>
<polygon points="176.57,136.40 177.23,137.00 178.00,137.44 177.63,138.24 177.46,139.11 176.57,139.01 175.69,139.11 175.52,138.24 175.15,137.44 175.92,137.00" fill="#1a1a1a"/>
<polygon points="159.62,150.80 160.28,151.40 161.05,151.84 160.68,152.64 160.51,153.51 159.62,153.41 158.74,153.51 158.57,152.64 158.20,151.84 158.97,151.40" fill="#1a1a1a"/>
<polygon points="163.02,150.80 163.68,151.40 164.45,151.84 164.08,152.64 163.91,153.51 163.02,153.41 162.14,153.51 161.97,152.64 161.60,151.84 162.37,151.40" fill="#1a1a1a"/>
<polygon points="166.42,150.80 167.08,151.40 167.85,151.84 167.48,152.64 167.31,153.51 166.42,153.41 165.54,153.51 165.37,152.64 165.00,151.84 165.77,151.40" fill="#1a1a1a"/>
<text x="168.10" y="169.90" font-size="6" fill="#555" stroke="#555" stroke-width="0.18" text-anchor="middle" font-weight="normal" >ns</text>
<polygon points="154.55,181.70 155.20,182.30 155.98,182.74 155.61,183.54 155.43,184.41 154.55,184.31 153.67,184.41 153.49,183.54 153.12,182.74 153.90,182.30" fill="#1a1a1a"/>
<polygon points="157.95,181.70 158.60,182.30 159.38,182.74 159.01,183.54 158.83,184.41 157.95,184.31 157.07,184.41 156.89,183.54 156.52,182.74 157.30,182.30" fill="#1a1a1a"/>
<polygon points="161.35,181.70 162.00,182.30 162.78,182.74 162.41,183.54 162.23,184.41 161.35,184.31 160.47,184.41 160.29,183.54 159.92,182.74 160.70,182.30" fill="#1a1a1a"/>
<polygon points="174.85,181.70 175.50,182.30 176.28,182.74 175.91,183.54 175.73,184.41 174.85,184.31 173.97,184.41 173.79,183.54 173.42,182.74 174.20,182.30" fill="#1a1a1a"/>
<polygon points="178.25,181.70 178.90,182.30 179.68,182.74 179.31,183.54 179.13,184.41 178.25,184.31 177.37,184.41 177.19,183.54 176.82,182.74 177.60,182.30" fill="#1a1a1a"/>
<polygon points="181.65,181.70 182.30,182.30 183.08,182.74 182.71,183.54 182.53,184.41 181.65,184.31 180.77,184.41 180.59,183.54 180.22,182.74 181.00,182.30" fill="#1a1a1a"/>
<line x1="168.40" y1="319.6" x2="168.40" y2="322.2" stroke="#222" stroke-width="0.9"/>
<text x="168.00" y="331.70" font-size="7.5" fill="#231f20" stroke="#231f20" stroke-width="0.08" text-anchor="middle" font-weight="normal" >MMC 10</text>
<rect x="197.32" y="292.20" width="5.8" height="27.40" fill="#e08496"/>
<rect x="207.47" y="313.50" width="5.8" height="6.10" fill="#86a6c6"/>
<rect x="217.62" y="308.90" width="5.8" height="10.70" fill="#9ad89e"/>
<rect x="227.77" y="260.20" width="5.8" height="59.40" fill="#a88cbc"/>
<line x1="200.22" y1="290.64" x2="200.22" y2="293.76" stroke="#d0103a" stroke-width="0.8"/>
<line x1="198.92" y1="290.64" x2="201.53" y2="290.64" stroke="#d0103a" stroke-width="0.8"/>
<line x1="198.92" y1="293.76" x2="201.53" y2="293.76" stroke="#d0103a" stroke-width="0.8"/>
<circle cx="200.22" cy="287.90" r="1.45" fill="#d0103a"/>
<circle cx="201.12" cy="289.87" r="1.45" fill="#d0103a"/>
<circle cx="199.32" cy="290.99" r="1.45" fill="#d0103a"/>
<line x1="210.38" y1="312.17" x2="210.38" y2="314.83" stroke="#3a70a8" stroke-width="0.8"/>
<line x1="209.07" y1="312.17" x2="211.68" y2="312.17" stroke="#3a70a8" stroke-width="0.8"/>
<line x1="209.07" y1="314.83" x2="211.68" y2="314.83" stroke="#3a70a8" stroke-width="0.8"/>
<rect x="209.03" y="309.55" width="2.70" height="2.70" fill="#12508f"/>
<rect x="209.93" y="310.12" width="2.70" height="2.70" fill="#12508f"/>
<rect x="208.12" y="312.08" width="2.70" height="2.70" fill="#12508f"/>
<line x1="220.52" y1="306.79" x2="220.52" y2="311.01" stroke="#3cb450" stroke-width="0.8"/>
<line x1="219.22" y1="306.79" x2="221.82" y2="306.79" stroke="#3cb450" stroke-width="0.8"/>
<line x1="219.22" y1="311.01" x2="221.82" y2="311.01" stroke="#3cb450" stroke-width="0.8"/>
<path d="M220.52,302.19 L222.22,305.25 L218.82,305.25 Z" fill="#2fae48"/>
<path d="M221.42,304.44 L223.12,307.50 L219.72,307.50 Z" fill="#2fae48"/>
<path d="M219.62,306.40 L221.32,309.46 L217.92,309.46 Z" fill="#2fae48"/>
<line x1="230.67" y1="253.77" x2="230.67" y2="266.63" stroke="#6a3090" stroke-width="0.8"/>
<line x1="229.37" y1="253.77" x2="231.97" y2="253.77" stroke="#6a3090" stroke-width="0.8"/>
<line x1="229.37" y1="266.63" x2="231.97" y2="266.63" stroke="#6a3090" stroke-width="0.8"/>
<circle cx="230.67" cy="253.68" r="1.45" fill="#5a1f7f"/>
<circle cx="231.57" cy="257.89" r="1.45" fill="#5a1f7f"/>
<circle cx="229.77" cy="266.31" r="1.45" fill="#5a1f7f"/>
<path d="M199.92,152.00 L199.92,126.50 L230.37,126.50 L230.37,131.70" fill="none" stroke="#333333" stroke-width="1.05" stroke-linejoin="round"/>
<path d="M210.07,146.00 L210.07,141.80 L230.37,141.80 L230.37,177.50" fill="none" stroke="#333333" stroke-width="1.05" stroke-linejoin="round"/>
<path d="M199.92,177.50 L199.92,157.20 L220.22,157.20 L220.22,162.20" fill="none" stroke="#333333" stroke-width="1.05" stroke-linejoin="round"/>
<path d="M210.07,177.50 L210.07,172.80 L220.22,172.80 L220.22,177.50" fill="none" stroke="#333333" stroke-width="1.05" stroke-linejoin="round"/>
<path d="M199.92,284.20 L199.92,187.70 L210.07,187.70 L210.07,306.70" fill="none" stroke="#333333" stroke-width="1.05" stroke-linejoin="round"/>
<path d="M220.22,299.40 L220.22,187.70 L230.37,187.70 L230.37,248.70" fill="none" stroke="#333333" stroke-width="1.05" stroke-linejoin="round"/>
<polygon points="211.75,120.00 212.40,120.60 213.18,121.04 212.81,121.84 212.63,122.71 211.75,122.61 210.87,122.71 210.69,121.84 210.32,121.04 211.10,120.60" fill="#1a1a1a"/>
<polygon points="215.15,120.00 215.80,120.60 216.58,121.04 216.21,121.84 216.03,122.71 215.15,122.61 214.27,122.71 214.09,121.84 213.72,121.04 214.50,120.60" fill="#1a1a1a"/>
<polygon points="218.55,120.00 219.20,120.60 219.98,121.04 219.61,121.84 219.43,122.71 218.55,122.61 217.67,122.71 217.49,121.84 217.12,121.04 217.90,120.60" fill="#1a1a1a"/>
<polygon points="216.82,136.40 217.48,137.00 218.25,137.44 217.88,138.24 217.71,139.11 216.82,139.01 215.94,139.11 215.77,138.24 215.40,137.44 216.17,137.00" fill="#1a1a1a"/>
<polygon points="220.22,136.40 220.88,137.00 221.65,137.44 221.28,138.24 221.11,139.11 220.22,139.01 219.34,139.11 219.17,138.24 218.80,137.44 219.57,137.00" fill="#1a1a1a"/>
<polygon points="223.62,136.40 224.28,137.00 225.05,137.44 224.68,138.24 224.51,139.11 223.62,139.01 222.74,139.11 222.57,138.24 222.20,137.44 222.97,137.00" fill="#1a1a1a"/>
<polygon points="210.07,150.80 210.73,151.40 211.50,151.84 211.13,152.64 210.96,153.51 210.07,153.41 209.19,153.51 209.02,152.64 208.65,151.84 209.42,151.40" fill="#1a1a1a"/>
<text x="215.15" y="169.90" font-size="6" fill="#555" stroke="#555" stroke-width="0.18" text-anchor="middle" font-weight="normal" >ns</text>
<polygon points="201.60,181.70 202.25,182.30 203.03,182.74 202.66,183.54 202.48,184.41 201.60,184.31 200.72,184.41 200.54,183.54 200.17,182.74 200.95,182.30" fill="#1a1a1a"/>
<polygon points="205.00,181.70 205.65,182.30 206.43,182.74 206.06,183.54 205.88,184.41 205.00,184.31 204.12,184.41 203.94,183.54 203.57,182.74 204.35,182.30" fill="#1a1a1a"/>
<polygon points="208.40,181.70 209.05,182.30 209.83,182.74 209.46,183.54 209.28,184.41 208.40,184.31 207.52,184.41 207.34,183.54 206.97,182.74 207.75,182.30" fill="#1a1a1a"/>
<polygon points="221.90,181.70 222.55,182.30 223.33,182.74 222.96,183.54 222.78,184.41 221.90,184.31 221.02,184.41 220.84,183.54 220.47,182.74 221.25,182.30" fill="#1a1a1a"/>
<polygon points="225.30,181.70 225.95,182.30 226.73,182.74 226.36,183.54 226.18,184.41 225.30,184.31 224.42,184.41 224.24,183.54 223.87,182.74 224.65,182.30" fill="#1a1a1a"/>
<polygon points="228.70,181.70 229.35,182.30 230.13,182.74 229.76,183.54 229.58,184.41 228.70,184.31 227.82,184.41 227.64,183.54 227.27,182.74 228.05,182.30" fill="#1a1a1a"/>
<line x1="215.45" y1="319.6" x2="215.45" y2="322.2" stroke="#222" stroke-width="0.9"/>
<text x="215.05" y="331.70" font-size="7.5" fill="#231f20" stroke="#231f20" stroke-width="0.08" text-anchor="middle" font-weight="normal" >Ace 2</text>
<rect x="244.38" y="306.00" width="5.8" height="13.60" fill="#e08496"/>
<rect x="254.53" y="315.20" width="5.8" height="4.40" fill="#86a6c6"/>
<rect x="264.68" y="315.20" width="5.8" height="4.40" fill="#9ad89e"/>
<rect x="274.83" y="305.00" width="5.8" height="14.60" fill="#a88cbc"/>
<line x1="247.28" y1="303.45" x2="247.28" y2="308.55" stroke="#d0103a" stroke-width="0.8"/>
<line x1="245.97" y1="303.45" x2="248.58" y2="303.45" stroke="#d0103a" stroke-width="0.8"/>
<line x1="245.97" y1="308.55" x2="248.58" y2="308.55" stroke="#d0103a" stroke-width="0.8"/>
<circle cx="247.28" cy="303.89" r="1.45" fill="#d0103a"/>
<circle cx="248.18" cy="305.86" r="1.45" fill="#d0103a"/>
<circle cx="246.38" cy="308.94" r="1.45" fill="#d0103a"/>
<line x1="257.43" y1="314.64" x2="257.43" y2="315.76" stroke="#3a70a8" stroke-width="0.8"/>
<line x1="256.12" y1="314.64" x2="258.73" y2="314.64" stroke="#3a70a8" stroke-width="0.8"/>
<line x1="256.12" y1="315.76" x2="258.73" y2="315.76" stroke="#3a70a8" stroke-width="0.8"/>
<rect x="256.07" y="313.48" width="2.70" height="2.70" fill="#12508f"/>
<rect x="256.97" y="314.04" width="2.70" height="2.70" fill="#12508f"/>
<rect x="255.18" y="314.60" width="2.70" height="2.70" fill="#12508f"/>
<line x1="267.57" y1="314.64" x2="267.57" y2="315.76" stroke="#3cb450" stroke-width="0.8"/>
<line x1="266.27" y1="314.64" x2="268.88" y2="314.64" stroke="#3cb450" stroke-width="0.8"/>
<line x1="266.27" y1="315.76" x2="268.88" y2="315.76" stroke="#3cb450" stroke-width="0.8"/>
<path d="M267.57,313.13 L269.27,316.19 L265.88,316.19 Z" fill="#2fae48"/>
<path d="M268.47,313.69 L270.17,316.75 L266.77,316.75 Z" fill="#2fae48"/>
<path d="M266.68,314.25 L268.38,317.31 L264.98,317.31 Z" fill="#2fae48"/>
<line x1="277.73" y1="302.32" x2="277.73" y2="307.68" stroke="#6a3090" stroke-width="0.8"/>
<line x1="276.43" y1="302.32" x2="279.03" y2="302.32" stroke="#6a3090" stroke-width="0.8"/>
<line x1="276.43" y1="307.68" x2="279.03" y2="307.68" stroke="#6a3090" stroke-width="0.8"/>
<circle cx="277.73" cy="300.53" r="1.45" fill="#5a1f7f"/>
<circle cx="278.62" cy="305.01" r="1.45" fill="#5a1f7f"/>
<circle cx="276.83" cy="305.29" r="1.45" fill="#5a1f7f"/>
<path d="M246.97,152.50 L246.97,126.50 L277.43,126.50 L277.43,137.40" fill="none" stroke="#333333" stroke-width="1.05" stroke-linejoin="round"/>
<path d="M257.12,146.00 L257.12,141.80 L277.43,141.80 L277.43,177.50" fill="none" stroke="#333333" stroke-width="1.05" stroke-linejoin="round"/>
<path d="M246.97,177.50 L246.97,157.20 L267.27,157.20 L267.27,162.20" fill="none" stroke="#333333" stroke-width="1.05" stroke-linejoin="round"/>
<path d="M257.12,177.50 L257.12,172.80 L267.27,172.80 L267.27,177.50" fill="none" stroke="#333333" stroke-width="1.05" stroke-linejoin="round"/>
<path d="M246.97,299.40 L246.97,187.70 L257.12,187.70 L257.12,309.60" fill="none" stroke="#333333" stroke-width="1.05" stroke-linejoin="round"/>
<path d="M267.27,309.60 L267.27,187.70 L277.43,187.70 L277.43,296.50" fill="none" stroke="#333333" stroke-width="1.05" stroke-linejoin="round"/>
<text x="262.20" y="123.00" font-size="6" fill="#555" stroke="#555" stroke-width="0.18" text-anchor="middle" font-weight="normal" >ns</text>
<text x="267.27" y="139.40" font-size="6" fill="#555" stroke="#555" stroke-width="0.18" text-anchor="middle" font-weight="normal" >ns</text>
<text x="257.12" y="153.80" font-size="6" fill="#555" stroke="#555" stroke-width="0.18" text-anchor="middle" font-weight="normal" >ns</text>
<text x="262.20" y="169.90" font-size="6" fill="#555" stroke="#555" stroke-width="0.18" text-anchor="middle" font-weight="normal" >ns</text>
<text x="252.05" y="184.70" font-size="6" fill="#555" stroke="#555" stroke-width="0.18" text-anchor="middle" font-weight="normal" >ns</text>
<text x="272.35" y="184.70" font-size="6" fill="#555" stroke="#555" stroke-width="0.18" text-anchor="middle" font-weight="normal" >ns</text>
<line x1="262.50" y1="319.6" x2="262.50" y2="322.2" stroke="#222" stroke-width="0.9"/>
<text x="262.10" y="331.70" font-size="7.5" fill="#231f20" stroke="#231f20" stroke-width="0.08" text-anchor="middle" font-weight="normal" >Ace 4</text>
<rect x="291.43" y="265.30" width="5.8" height="54.30" fill="#e08496"/>
<rect x="301.58" y="279.80" width="5.8" height="39.80" fill="#86a6c6"/>
<rect x="311.73" y="262.40" width="5.8" height="57.20" fill="#9ad89e"/>
<rect x="321.88" y="232.40" width="5.8" height="87.20" fill="#a88cbc"/>
<line x1="294.32" y1="254.20" x2="294.32" y2="276.40" stroke="#d0103a" stroke-width="0.8"/>
<line x1="293.02" y1="254.20" x2="295.62" y2="254.20" stroke="#d0103a" stroke-width="0.8"/>
<line x1="293.02" y1="276.40" x2="295.62" y2="276.40" stroke="#d0103a" stroke-width="0.8"/>
<circle cx="294.32" cy="253.96" r="1.45" fill="#d0103a"/>
<circle cx="295.22" cy="263.78" r="1.45" fill="#d0103a"/>
<circle cx="293.43" cy="276.12" r="1.45" fill="#d0103a"/>
<line x1="304.48" y1="274.39" x2="304.48" y2="285.21" stroke="#3a70a8" stroke-width="0.8"/>
<line x1="303.18" y1="274.39" x2="305.78" y2="274.39" stroke="#3a70a8" stroke-width="0.8"/>
<line x1="303.18" y1="285.21" x2="305.78" y2="285.21" stroke="#3a70a8" stroke-width="0.8"/>
<rect x="303.12" y="273.37" width="2.70" height="2.70" fill="#12508f"/>
<rect x="304.02" y="275.05" width="2.70" height="2.70" fill="#12508f"/>
<rect x="302.23" y="283.47" width="2.70" height="2.70" fill="#12508f"/>
<line x1="314.62" y1="250.09" x2="314.62" y2="274.71" stroke="#3cb450" stroke-width="0.8"/>
<line x1="313.32" y1="250.09" x2="315.93" y2="250.09" stroke="#3cb450" stroke-width="0.8"/>
<line x1="313.32" y1="274.71" x2="315.93" y2="274.71" stroke="#3cb450" stroke-width="0.8"/>
<path d="M314.62,246.37 L316.32,249.43 L312.93,249.43 Z" fill="#2fae48"/>
<path d="M315.52,267.41 L317.22,270.47 L313.82,270.47 Z" fill="#2fae48"/>
<path d="M313.73,267.97 L315.43,271.03 L312.03,271.03 Z" fill="#2fae48"/>
<line x1="324.78" y1="227.63" x2="324.78" y2="237.17" stroke="#6a3090" stroke-width="0.8"/>
<line x1="323.48" y1="227.63" x2="326.08" y2="227.63" stroke="#6a3090" stroke-width="0.8"/>
<line x1="323.48" y1="237.17" x2="326.08" y2="237.17" stroke="#6a3090" stroke-width="0.8"/>
<circle cx="324.78" cy="227.04" r="1.45" fill="#5a1f7f"/>
<circle cx="325.68" cy="231.80" r="1.45" fill="#5a1f7f"/>
<circle cx="323.88" cy="236.57" r="1.45" fill="#5a1f7f"/>
<path d="M294.02,152.50 L294.02,126.50 L324.48,126.50 L324.48,131.70" fill="none" stroke="#333333" stroke-width="1.05" stroke-linejoin="round"/>
<path d="M304.18,146.00 L304.18,141.80 L324.48,141.80 L324.48,177.50" fill="none" stroke="#333333" stroke-width="1.05" stroke-linejoin="round"/>
<path d="M294.02,177.50 L294.02,157.20 L314.32,157.20 L314.32,162.20" fill="none" stroke="#333333" stroke-width="1.05" stroke-linejoin="round"/>
<path d="M304.18,177.50 L304.18,172.80 L314.32,172.80 L314.32,177.50" fill="none" stroke="#333333" stroke-width="1.05" stroke-linejoin="round"/>
<path d="M294.02,248.70 L294.02,187.70 L304.18,187.70 L304.18,268.90" fill="none" stroke="#333333" stroke-width="1.05" stroke-linejoin="round"/>
<path d="M314.32,241.90 L314.32,187.70 L324.48,187.70 L324.48,222.30" fill="none" stroke="#333333" stroke-width="1.05" stroke-linejoin="round"/>
<polygon points="305.85,120.00 306.50,120.60 307.28,121.04 306.91,121.84 306.73,122.71 305.85,122.61 304.97,122.71 304.79,121.84 304.42,121.04 305.20,120.60" fill="#1a1a1a"/>
<polygon points="309.25,120.00 309.90,120.60 310.68,121.04 310.31,121.84 310.13,122.71 309.25,122.61 308.37,122.71 308.19,121.84 307.82,121.04 308.60,120.60" fill="#1a1a1a"/>
<polygon points="312.65,120.00 313.30,120.60 314.08,121.04 313.71,121.84 313.53,122.71 312.65,122.61 311.77,122.71 311.59,121.84 311.22,121.04 312.00,120.60" fill="#1a1a1a"/>
<polygon points="310.93,136.40 311.58,137.00 312.35,137.44 311.98,138.24 311.81,139.11 310.93,139.01 310.04,139.11 309.87,138.24 309.50,137.44 310.27,137.00" fill="#1a1a1a"/>
<polygon points="314.33,136.40 314.98,137.00 315.75,137.44 315.38,138.24 315.21,139.11 314.33,139.01 313.44,139.11 313.27,138.24 312.90,137.44 313.67,137.00" fill="#1a1a1a"/>
<polygon points="317.73,136.40 318.38,137.00 319.15,137.44 318.78,138.24 318.61,139.11 317.73,139.01 316.84,139.11 316.67,138.24 316.30,137.44 317.07,137.00" fill="#1a1a1a"/>
<text x="304.17" y="153.80" font-size="6" fill="#555" stroke="#555" stroke-width="0.18" text-anchor="middle" font-weight="normal" >ns</text>
<polygon points="307.55,166.90 308.20,167.50 308.98,167.94 308.61,168.74 308.43,169.61 307.55,169.51 306.67,169.61 306.49,168.74 306.12,167.94 306.90,167.50" fill="#1a1a1a"/>
<polygon points="310.95,166.90 311.60,167.50 312.38,167.94 312.01,168.74 311.83,169.61 310.95,169.51 310.07,169.61 309.89,168.74 309.52,167.94 310.30,167.50" fill="#1a1a1a"/>
<polygon points="299.10,181.70 299.75,182.30 300.53,182.74 300.16,183.54 299.98,184.41 299.10,184.31 298.22,184.41 298.04,183.54 297.67,182.74 298.45,182.30" fill="#1a1a1a"/>
<polygon points="316.00,181.70 316.65,182.30 317.43,182.74 317.06,183.54 316.88,184.41 316.00,184.31 315.12,184.41 314.94,183.54 314.57,182.74 315.35,182.30" fill="#1a1a1a"/>
<polygon points="319.40,181.70 320.05,182.30 320.83,182.74 320.46,183.54 320.28,184.41 319.40,184.31 318.52,184.41 318.34,183.54 317.97,182.74 318.75,182.30" fill="#1a1a1a"/>
<polygon points="322.80,181.70 323.45,182.30 324.23,182.74 323.86,183.54 323.68,184.41 322.80,184.31 321.92,184.41 321.74,183.54 321.37,182.74 322.15,182.30" fill="#1a1a1a"/>
<line x1="309.55" y1="319.6" x2="309.55" y2="322.2" stroke="#222" stroke-width="0.9"/>
<text x="309.15" y="331.70" font-size="7.5" fill="#231f20" stroke="#231f20" stroke-width="0.08" text-anchor="middle" font-weight="normal" >HU 15</text>
<rect x="338.47" y="293.60" width="5.8" height="26.00" fill="#e08496"/>
<rect x="348.62" y="306.70" width="5.8" height="12.90" fill="#86a6c6"/>
<rect x="358.77" y="287.00" width="5.8" height="32.60" fill="#9ad89e"/>
<rect x="368.93" y="263.10" width="5.8" height="56.50" fill="#a88cbc"/>
<line x1="341.37" y1="286.71" x2="341.37" y2="300.49" stroke="#d0103a" stroke-width="0.8"/>
<line x1="340.07" y1="286.71" x2="342.67" y2="286.71" stroke="#d0103a" stroke-width="0.8"/>
<line x1="340.07" y1="300.49" x2="342.67" y2="300.49" stroke="#d0103a" stroke-width="0.8"/>
<circle cx="341.37" cy="285.10" r="1.45" fill="#d0103a"/>
<circle cx="342.27" cy="294.36" r="1.45" fill="#d0103a"/>
<circle cx="340.47" cy="298.56" r="1.45" fill="#d0103a"/>
<line x1="351.52" y1="302.48" x2="351.52" y2="310.92" stroke="#3a70a8" stroke-width="0.8"/>
<line x1="350.22" y1="302.48" x2="352.82" y2="302.48" stroke="#3a70a8" stroke-width="0.8"/>
<line x1="350.22" y1="310.92" x2="352.82" y2="310.92" stroke="#3a70a8" stroke-width="0.8"/>
<rect x="350.17" y="299.46" width="2.70" height="2.70" fill="#12508f"/>
<rect x="351.07" y="303.10" width="2.70" height="2.70" fill="#12508f"/>
<rect x="349.27" y="307.87" width="2.70" height="2.70" fill="#12508f"/>
<line x1="361.67" y1="282.54" x2="361.67" y2="291.46" stroke="#3cb450" stroke-width="0.8"/>
<line x1="360.37" y1="282.54" x2="362.97" y2="282.54" stroke="#3cb450" stroke-width="0.8"/>
<line x1="360.37" y1="291.46" x2="362.97" y2="291.46" stroke="#3cb450" stroke-width="0.8"/>
<path d="M361.67,282.84 L363.37,285.90 L359.97,285.90 Z" fill="#2fae48"/>
<path d="M362.57,283.12 L364.27,286.18 L360.87,286.18 Z" fill="#2fae48"/>
<path d="M360.77,290.69 L362.47,293.75 L359.07,293.75 Z" fill="#2fae48"/>
<line x1="371.82" y1="252.66" x2="371.82" y2="273.54" stroke="#6a3090" stroke-width="0.8"/>
<line x1="370.52" y1="252.66" x2="373.12" y2="252.66" stroke="#6a3090" stroke-width="0.8"/>
<line x1="370.52" y1="273.54" x2="373.12" y2="273.54" stroke="#6a3090" stroke-width="0.8"/>
<circle cx="371.82" cy="250.88" r="1.45" fill="#5a1f7f"/>
<circle cx="372.72" cy="266.87" r="1.45" fill="#5a1f7f"/>
<circle cx="370.93" cy="270.51" r="1.45" fill="#5a1f7f"/>
<path d="M341.07,152.50 L341.07,126.50 L371.52,126.50 L371.52,131.70" fill="none" stroke="#333333" stroke-width="1.05" stroke-linejoin="round"/>
<path d="M351.22,146.00 L351.22,141.80 L371.52,141.80 L371.52,177.50" fill="none" stroke="#333333" stroke-width="1.05" stroke-linejoin="round"/>
<path d="M341.07,177.50 L341.07,157.20 L361.37,157.20 L361.37,162.20" fill="none" stroke="#333333" stroke-width="1.05" stroke-linejoin="round"/>
<path d="M351.22,177.50 L351.22,172.80 L361.37,172.80 L361.37,177.50" fill="none" stroke="#333333" stroke-width="1.05" stroke-linejoin="round"/>
<path d="M341.07,280.50 L341.07,187.70 L351.22,187.70 L351.22,297.20" fill="none" stroke="#333333" stroke-width="1.05" stroke-linejoin="round"/>
<path d="M361.37,279.00 L361.37,187.70 L371.52,187.70 L371.52,245.30" fill="none" stroke="#333333" stroke-width="1.05" stroke-linejoin="round"/>
<polygon points="352.90,120.00 353.55,120.60 354.33,121.04 353.96,121.84 353.78,122.71 352.90,122.61 352.02,122.71 351.84,121.84 351.47,121.04 352.25,120.60" fill="#1a1a1a"/>
<polygon points="356.30,120.00 356.95,120.60 357.73,121.04 357.36,121.84 357.18,122.71 356.30,122.61 355.42,122.71 355.24,121.84 354.87,121.04 355.65,120.60" fill="#1a1a1a"/>
<polygon points="359.70,120.00 360.35,120.60 361.13,121.04 360.76,121.84 360.58,122.71 359.70,122.61 358.82,122.71 358.64,121.84 358.27,121.04 359.05,120.60" fill="#1a1a1a"/>
<polygon points="357.98,136.40 358.63,137.00 359.40,137.44 359.03,138.24 358.86,139.11 357.98,139.01 357.09,139.11 356.92,138.24 356.55,137.44 357.32,137.00" fill="#1a1a1a"/>
<polygon points="361.38,136.40 362.03,137.00 362.80,137.44 362.43,138.24 362.26,139.11 361.38,139.01 360.49,139.11 360.32,138.24 359.95,137.44 360.72,137.00" fill="#1a1a1a"/>
<polygon points="364.77,136.40 365.43,137.00 366.20,137.44 365.83,138.24 365.66,139.11 364.77,139.01 363.89,139.11 363.72,138.24 363.35,137.44 364.12,137.00" fill="#1a1a1a"/>
<text x="351.22" y="153.80" font-size="6" fill="#555" stroke="#555" stroke-width="0.18" text-anchor="middle" font-weight="normal" >ns</text>
<polygon points="354.60,166.90 355.25,167.50 356.03,167.94 355.66,168.74 355.48,169.61 354.60,169.51 353.72,169.61 353.54,168.74 353.17,167.94 353.95,167.50" fill="#1a1a1a"/>
<polygon points="358.00,166.90 358.65,167.50 359.43,167.94 359.06,168.74 358.88,169.61 358.00,169.51 357.12,169.61 356.94,168.74 356.57,167.94 357.35,167.50" fill="#1a1a1a"/>
<text x="346.15" y="184.70" font-size="6" fill="#555" stroke="#555" stroke-width="0.18" text-anchor="middle" font-weight="normal" >ns</text>
<polygon points="363.05,181.70 363.70,182.30 364.48,182.74 364.11,183.54 363.93,184.41 363.05,184.31 362.17,184.41 361.99,183.54 361.62,182.74 362.40,182.30" fill="#1a1a1a"/>
<polygon points="366.45,181.70 367.10,182.30 367.88,182.74 367.51,183.54 367.33,184.41 366.45,184.31 365.57,184.41 365.39,183.54 365.02,182.74 365.80,182.30" fill="#1a1a1a"/>
<polygon points="369.85,181.70 370.50,182.30 371.28,182.74 370.91,183.54 370.73,184.41 369.85,184.31 368.97,184.41 368.79,183.54 368.42,182.74 369.20,182.30" fill="#1a1a1a"/>
<line x1="356.60" y1="319.6" x2="356.60" y2="322.2" stroke="#222" stroke-width="0.9"/>
<text x="356.20" y="331.70" font-size="7.5" fill="#231f20" stroke="#231f20" stroke-width="0.08" text-anchor="middle" font-weight="normal" >HU 30</text>
<circle cx="390.50" cy="283.80" r="1.89" fill="#d0103a"/>
<text x="395.80" y="286.30" font-size="7" fill="#d3405c" stroke="#d3405c" stroke-width="0.18" text-anchor="start" font-weight="normal" >shLuc/shLuc</text>
<rect x="388.75" y="292.68" width="3.51" height="3.51" fill="#12508f"/>
<text x="395.80" y="296.93" font-size="7" fill="#3f6d9e" stroke="#3f6d9e" stroke-width="0.18" text-anchor="start" font-weight="normal" >shFANCD2/shLuc</text>
<path d="M390.50,302.85 L392.71,306.83 L388.29,306.83 Z" fill="#2fae48"/>
<text x="395.80" y="307.56" font-size="7" fill="#45b055" stroke="#45b055" stroke-width="0.18" text-anchor="start" font-weight="normal" >shFANCD2/shLNK</text>
<circle cx="390.50" cy="315.69" r="1.89" fill="#5a1f7f"/>
<text x="395.80" y="318.19" font-size="7" fill="#6f4a98" stroke="#6f4a98" stroke-width="0.18" text-anchor="start" font-weight="normal" >shLuc/shLNK</text>
<text x="6.00" y="349.70" font-size="10.8" fill="#000" stroke="#000" stroke-width="0.5" text-anchor="start" font-weight="bold" >C</text>
<text x="55.00" y="357.50" font-size="9.05" fill="#231f20" stroke="#231f20" stroke-width="0.12" text-anchor="start" font-weight="normal" >Mitomycin C (MMC)</text>
<line x1="51.05" y1="364.3" x2="51.05" y2="487.59999999999997" stroke="#222" stroke-width="1.4"/>
<line x1="50.349999999999994" y1="486.9" x2="140.64999999999998" y2="486.9" stroke="#222" stroke-width="1.4"/>
<line x1="47.05" y1="486.90" x2="51.05" y2="486.90" stroke="#222" stroke-width="1"/>
<text x="45.05" y="489.80" font-size="8.2" fill="#231f20" stroke="#231f20" stroke-width="0.05" text-anchor="end" font-weight="normal" >0</text>
<line x1="47.05" y1="465.54" x2="51.05" y2="465.54" stroke="#222" stroke-width="1"/>
<text x="45.05" y="468.44" font-size="8.2" fill="#231f20" stroke="#231f20" stroke-width="0.05" text-anchor="end" font-weight="normal" >20</text>
<line x1="47.05" y1="444.18" x2="51.05" y2="444.18" stroke="#222" stroke-width="1"/>
<text x="45.05" y="447.08" font-size="8.2" fill="#231f20" stroke="#231f20" stroke-width="0.05" text-anchor="end" font-weight="normal" >40</text>
<line x1="47.05" y1="422.82" x2="51.05" y2="422.82" stroke="#222" stroke-width="1"/>
<text x="45.05" y="425.72" font-size="8.2" fill="#231f20" stroke="#231f20" stroke-width="0.05" text-anchor="end" font-weight="normal" >60</text>
<line x1="47.05" y1="401.46" x2="51.05" y2="401.46" stroke="#222" stroke-width="1"/>
<text x="45.05" y="404.36" font-size="8.2" fill="#231f20" stroke="#231f20" stroke-width="0.05" text-anchor="end" font-weight="normal" >80</text>
<line x1="47.05" y1="380.10" x2="51.05" y2="380.10" stroke="#222" stroke-width="1"/>
<text x="45.05" y="383.00" font-size="8.2" fill="#231f20" stroke="#231f20" stroke-width="0.05" text-anchor="end" font-weight="normal" >100</text>
<line x1="68.95" y1="486.9" x2="68.95" y2="489.5" stroke="#222" stroke-width="1"/>
<text x="68.95" y="498.80" font-size="8.2" fill="#231f20" stroke="#231f20" stroke-width="0.05" text-anchor="middle" font-weight="normal" >0</text>
<line x1="95.80" y1="486.9" x2="95.80" y2="489.5" stroke="#222" stroke-width="1"/>
<text x="95.80" y="498.80" font-size="8.2" fill="#231f20" stroke="#231f20" stroke-width="0.05" text-anchor="middle" font-weight="normal" >3</text>
<line x1="122.65" y1="486.9" x2="122.65" y2="489.5" stroke="#222" stroke-width="1"/>
<text x="122.65" y="498.80" font-size="8.2" fill="#231f20" stroke="#231f20" stroke-width="0.05" text-anchor="middle" font-weight="normal" >10</text>
<text transform="translate(94.19999999999999,508.4) scale(0.76,1)" font-size="8.6" fill="#231f20" stroke="#231f20" stroke-width="0.35" text-anchor="middle">MMC (nM)</text>
<text transform="translate(14.849999999999994,425) rotate(-90) scale(0.72,1)" font-size="8.6" fill="#231f20" stroke="#231f20" stroke-width="0.35" text-anchor="middle">% CFU Survival</text>
<text transform="translate(25.15,425.3) rotate(-90) scale(0.75,1)" font-size="8.6" fill="#231f20" stroke="#231f20" stroke-width="0.35" text-anchor="middle">(Relative to vehicle)</text>
<line x1="101.5" y1="387.1" x2="101.5" y2="466.8" stroke="#3a3a3a" stroke-width="0.7"/>
<line x1="108" y1="387.1" x2="108" y2="466.8" stroke="#e07c92" stroke-width="1.5"/>
<line x1="127.2" y1="407.2" x2="127.2" y2="476.7" stroke="#9a9a9a" stroke-width="1.2"/>
<line x1="134.2" y1="407.2" x2="134.2" y2="476.7" stroke="#9a9a9a" stroke-width="1.2"/>
<polygon points="105.40,410.05 106.22,410.57 106.97,411.19 106.73,412.13 106.37,413.03 105.40,413.10 104.43,413.03 104.07,412.13 103.83,411.19 104.58,410.57" fill="#1a1a1a"/>
<polygon points="105.40,413.35 106.22,413.87 106.97,414.49 106.73,415.43 106.37,416.33 105.40,416.40 104.43,416.33 104.07,415.43 103.83,414.49 104.58,413.87" fill="#1a1a1a"/>
<polygon points="105.40,416.65 106.22,417.17 106.97,417.79 106.73,418.73 106.37,419.63 105.40,419.70 104.43,419.63 104.07,418.73 103.83,417.79 104.58,417.17" fill="#1a1a1a"/>
<polygon points="111.50,421.75 112.32,422.27 113.07,422.89 112.83,423.83 112.47,424.73 111.50,424.80 110.53,424.73 110.17,423.83 109.93,422.89 110.68,422.27" fill="#1a1a1a"/>
<polygon points="111.50,425.05 112.32,425.57 113.07,426.19 112.83,427.13 112.47,428.03 111.50,428.10 110.53,428.03 110.17,427.13 109.93,426.19 110.68,425.57" fill="#1a1a1a"/>
<polygon points="111.50,428.35 112.32,428.87 113.07,429.49 112.83,430.43 112.47,431.33 111.50,431.40 110.53,431.33 110.17,430.43 109.93,429.49 110.68,428.87" fill="#1a1a1a"/>
<polygon points="130.70,437.25 131.52,437.77 132.27,438.39 132.03,439.33 131.67,440.23 130.70,440.30 129.73,440.23 129.37,439.33 129.13,438.39 129.88,437.77" fill="#1a1a1a"/>
<polygon points="130.70,440.55 131.52,441.07 132.27,441.69 132.03,442.63 131.67,443.53 130.70,443.60 129.73,443.53 129.37,442.63 129.13,441.69 129.88,441.07" fill="#1a1a1a"/>
<polygon points="130.70,443.85 131.52,444.37 132.27,444.99 132.03,445.93 131.67,446.83 130.70,446.90 129.73,446.83 129.37,445.93 129.13,444.99 129.88,444.37" fill="#1a1a1a"/>
<polygon points="136.80,437.25 137.62,437.77 138.37,438.39 138.13,439.33 137.77,440.23 136.80,440.30 135.83,440.23 135.47,439.33 135.23,438.39 135.98,437.77" fill="#1a1a1a"/>
<polygon points="136.80,440.55 137.62,441.07 138.37,441.69 138.13,442.63 137.77,443.53 136.80,443.60 135.83,443.53 135.47,442.63 135.23,441.69 135.98,441.07" fill="#1a1a1a"/>
<polygon points="136.80,443.85 137.62,444.37 138.37,444.99 138.13,445.93 137.77,446.83 136.80,446.90 135.83,446.83 135.47,445.93 135.23,444.99 135.98,444.37" fill="#1a1a1a"/>
<text transform="translate(102.6,456.2) rotate(90)" font-size="4.6" fill="#777" text-anchor="middle">0.0209</text>
<line x1="68.95" y1="365.15" x2="68.95" y2="395.05" stroke="#4d7fb5" stroke-width="0.9"/>
<line x1="67.35" y1="365.15" x2="70.55" y2="365.15" stroke="#4d7fb5" stroke-width="0.9"/>
<line x1="67.35" y1="395.05" x2="70.55" y2="395.05" stroke="#4d7fb5" stroke-width="0.9"/>
<line x1="95.80" y1="460.73" x2="95.80" y2="471.95" stroke="#4d7fb5" stroke-width="0.9"/>
<line x1="94.20" y1="460.73" x2="97.40" y2="460.73" stroke="#4d7fb5" stroke-width="0.9"/>
<line x1="94.20" y1="471.95" x2="97.40" y2="471.95" stroke="#4d7fb5" stroke-width="0.9"/>
<line x1="122.65" y1="475.37" x2="122.65" y2="477.82" stroke="#4d7fb5" stroke-width="0.9"/>
<line x1="121.05" y1="475.37" x2="124.25" y2="475.37" stroke="#4d7fb5" stroke-width="0.9"/>
<line x1="121.05" y1="477.82" x2="124.25" y2="477.82" stroke="#4d7fb5" stroke-width="0.9"/>
<line x1="68.95" y1="364.08" x2="68.95" y2="398.68" stroke="#7dd67d" stroke-width="0.9"/>
<line x1="67.35" y1="364.08" x2="70.55" y2="364.08" stroke="#7dd67d" stroke-width="0.9"/>
<line x1="67.35" y1="398.68" x2="70.55" y2="398.68" stroke="#7dd67d" stroke-width="0.9"/>
<line x1="95.80" y1="440.44" x2="95.80" y2="448.99" stroke="#7dd67d" stroke-width="0.9"/>
<line x1="94.20" y1="440.44" x2="97.40" y2="440.44" stroke="#7dd67d" stroke-width="0.9"/>
<line x1="94.20" y1="448.99" x2="97.40" y2="448.99" stroke="#7dd67d" stroke-width="0.9"/>
<line x1="122.65" y1="473.55" x2="122.65" y2="476.22" stroke="#7dd67d" stroke-width="0.9"/>
<line x1="121.05" y1="473.55" x2="124.25" y2="473.55" stroke="#7dd67d" stroke-width="0.9"/>
<line x1="121.05" y1="476.22" x2="124.25" y2="476.22" stroke="#7dd67d" stroke-width="0.9"/>
<line x1="68.95" y1="366.22" x2="68.95" y2="395.59" stroke="#e25a78" stroke-width="0.9"/>
<line x1="67.35" y1="366.22" x2="70.55" y2="366.22" stroke="#e25a78" stroke-width="0.9"/>
<line x1="67.35" y1="395.59" x2="70.55" y2="395.59" stroke="#e25a78" stroke-width="0.9"/>
<line x1="95.80" y1="378.28" x2="95.80" y2="391.85" stroke="#e25a78" stroke-width="0.9"/>
<line x1="94.20" y1="378.28" x2="97.40" y2="378.28" stroke="#e25a78" stroke-width="0.9"/>
<line x1="94.20" y1="391.85" x2="97.40" y2="391.85" stroke="#e25a78" stroke-width="0.9"/>
<line x1="122.65" y1="393.24" x2="122.65" y2="418.01" stroke="#e25a78" stroke-width="0.9"/>
<line x1="121.05" y1="393.24" x2="124.25" y2="393.24" stroke="#e25a78" stroke-width="0.9"/>
<line x1="121.05" y1="418.01" x2="124.25" y2="418.01" stroke="#e25a78" stroke-width="0.9"/>
<line x1="68.95" y1="370.49" x2="68.95" y2="390.25" stroke="#9a6cba" stroke-width="0.9"/>
<line x1="67.35" y1="370.49" x2="70.55" y2="370.49" stroke="#9a6cba" stroke-width="0.9"/>
<line x1="67.35" y1="390.25" x2="70.55" y2="390.25" stroke="#9a6cba" stroke-width="0.9"/>
<line x1="95.80" y1="389.18" x2="95.80" y2="397.19" stroke="#9a6cba" stroke-width="0.9"/>
<line x1="94.20" y1="389.18" x2="97.40" y2="389.18" stroke="#9a6cba" stroke-width="0.9"/>
<line x1="94.20" y1="397.19" x2="97.40" y2="397.19" stroke="#9a6cba" stroke-width="0.9"/>
<line x1="122.65" y1="415.66" x2="122.65" y2="433.50" stroke="#9a6cba" stroke-width="0.9"/>
<line x1="121.05" y1="415.66" x2="124.25" y2="415.66" stroke="#9a6cba" stroke-width="0.9"/>
<line x1="121.05" y1="433.50" x2="124.25" y2="433.50" stroke="#9a6cba" stroke-width="0.9"/>
<polyline points="68.95,380.10 95.80,445.89 122.65,474.72" fill="none" stroke="#27a83a" stroke-width="1.5" stroke-linejoin="round"/>
<polyline points="68.95,380.10 95.80,466.50 122.65,476.65" fill="none" stroke="#12508f" stroke-width="1.5" stroke-linejoin="round"/>
<polyline points="68.95,380.10 95.80,385.01 122.65,405.63" fill="none" stroke="#c8102e" stroke-width="1.5" stroke-linejoin="round"/>
<polyline points="68.95,380.10 95.80,393.24 122.65,424.96" fill="none" stroke="#4b1a7c" stroke-width="1.5" stroke-linejoin="round"/>
<path d="M68.95,377.89 L71.16,381.87 L66.74,381.87 Z" fill="#27a83a"/>
<path d="M95.80,443.68 L98.01,447.66 L93.59,447.66 Z" fill="#27a83a"/>
<path d="M122.65,472.51 L124.86,476.49 L120.44,476.49 Z" fill="#27a83a"/>
<rect x="67.19" y="378.34" width="3.51" height="3.51" fill="#12508f"/>
<rect x="94.04" y="464.75" width="3.51" height="3.51" fill="#12508f"/>
<rect x="120.89" y="474.89" width="3.51" height="3.51" fill="#12508f"/>
<circle cx="68.95" cy="380.10" r="1.89" fill="#c8102e"/>
<circle cx="95.80" cy="385.01" r="1.89" fill="#c8102e"/>
<circle cx="122.65" cy="405.63" r="1.89" fill="#c8102e"/>
<circle cx="68.95" cy="380.10" r="1.89" fill="#4b1a7c"/>
<circle cx="95.80" cy="393.24" r="1.89" fill="#4b1a7c"/>
<circle cx="122.65" cy="424.96" r="1.89" fill="#4b1a7c"/>
<rect x="67.26" y="378.41" width="3.38" height="3.38" fill="#3a2a7a"/>
<text x="162.50" y="349.70" font-size="10.8" fill="#000" stroke="#000" stroke-width="0.5" text-anchor="start" font-weight="bold" >D</text>
<text x="209.30" y="357.50" font-size="9.05" fill="#231f20" stroke="#231f20" stroke-width="0.12" text-anchor="start" font-weight="normal" >Acetaldehyde (Ace)</text>
<line x1="205.75" y1="365.0" x2="205.75" y2="488.29999999999995" stroke="#222" stroke-width="1.4"/>
<line x1="205.05" y1="487.59999999999997" x2="295.35" y2="487.59999999999997" stroke="#222" stroke-width="1.4"/>
<line x1="201.75" y1="487.60" x2="205.75" y2="487.60" stroke="#222" stroke-width="1"/>
<text x="199.75" y="490.50" font-size="8.2" fill="#231f20" stroke="#231f20" stroke-width="0.05" text-anchor="end" font-weight="normal" >0</text>
<line x1="201.75" y1="466.24" x2="205.75" y2="466.24" stroke="#222" stroke-width="1"/>
<text x="199.75" y="469.14" font-size="8.2" fill="#231f20" stroke="#231f20" stroke-width="0.05" text-anchor="end" font-weight="normal" >20</text>
<line x1="201.75" y1="444.88" x2="205.75" y2="444.88" stroke="#222" stroke-width="1"/>
<text x="199.75" y="447.78" font-size="8.2" fill="#231f20" stroke="#231f20" stroke-width="0.05" text-anchor="end" font-weight="normal" >40</text>
<line x1="201.75" y1="423.52" x2="205.75" y2="423.52" stroke="#222" stroke-width="1"/>
<text x="199.75" y="426.42" font-size="8.2" fill="#231f20" stroke="#231f20" stroke-width="0.05" text-anchor="end" font-weight="normal" >60</text>
<line x1="201.75" y1="402.16" x2="205.75" y2="402.16" stroke="#222" stroke-width="1"/>
<text x="199.75" y="405.06" font-size="8.2" fill="#231f20" stroke="#231f20" stroke-width="0.05" text-anchor="end" font-weight="normal" >80</text>
<line x1="201.75" y1="380.80" x2="205.75" y2="380.80" stroke="#222" stroke-width="1"/>
<text x="199.75" y="383.70" font-size="8.2" fill="#231f20" stroke="#231f20" stroke-width="0.05" text-anchor="end" font-weight="normal" >100</text>
<line x1="223.65" y1="487.59999999999997" x2="223.65" y2="490.2" stroke="#222" stroke-width="1"/>
<text x="223.65" y="499.50" font-size="8.2" fill="#231f20" stroke="#231f20" stroke-width="0.05" text-anchor="middle" font-weight="normal" >0</text>
<line x1="250.50" y1="487.59999999999997" x2="250.50" y2="490.2" stroke="#222" stroke-width="1"/>
<text x="250.50" y="499.50" font-size="8.2" fill="#231f20" stroke="#231f20" stroke-width="0.05" text-anchor="middle" font-weight="normal" >2</text>
<line x1="277.35" y1="487.59999999999997" x2="277.35" y2="490.2" stroke="#222" stroke-width="1"/>
<text x="277.35" y="499.50" font-size="8.2" fill="#231f20" stroke="#231f20" stroke-width="0.05" text-anchor="middle" font-weight="normal" >4</text>
<text transform="translate(248.9,509.09999999999997) scale(0.76,1)" font-size="8.6" fill="#231f20" stroke="#231f20" stroke-width="0.35" text-anchor="middle">Ace (mM)</text>
<text transform="translate(169.55,425) rotate(-90) scale(0.72,1)" font-size="8.6" fill="#231f20" stroke="#231f20" stroke-width="0.35" text-anchor="middle">% CFU Survival</text>
<text transform="translate(179.85,425.3) rotate(-90) scale(0.75,1)" font-size="8.6" fill="#231f20" stroke="#231f20" stroke-width="0.35" text-anchor="middle">(Relative to vehicle)</text>
<line x1="250.6" y1="442.8" x2="250.6" y2="461" stroke="#e0607a" stroke-width="0.8"/>
<line x1="257.6" y1="441.9" x2="257.6" y2="468.1" stroke="#444" stroke-width="0.8"/>
<polygon points="254.10,449.00 254.92,449.52 255.67,450.14 255.43,451.08 255.07,451.98 254.10,452.05 253.13,451.98 252.77,451.08 252.53,450.14 253.28,449.52" fill="#1a1a1a"/>
<polygon points="254.10,452.30 254.92,452.82 255.67,453.44 255.43,454.38 255.07,455.28 254.10,455.35 253.13,455.28 252.77,454.38 252.53,453.44 253.28,452.82" fill="#1a1a1a"/>
<polygon points="260.70,451.20 261.52,451.72 262.27,452.34 262.03,453.28 261.67,454.18 260.70,454.25 259.73,454.18 259.37,453.28 259.13,452.34 259.88,451.72" fill="#1a1a1a"/>
<polygon points="260.70,454.50 261.52,455.02 262.27,455.64 262.03,456.58 261.67,457.48 260.70,457.55 259.73,457.48 259.37,456.58 259.13,455.64 259.88,455.02" fill="#1a1a1a"/>
<line x1="223.65" y1="365.85" x2="223.65" y2="395.75" stroke="#4d7fb5" stroke-width="0.9"/>
<line x1="222.05" y1="365.85" x2="225.25" y2="365.85" stroke="#4d7fb5" stroke-width="0.9"/>
<line x1="222.05" y1="395.75" x2="225.25" y2="395.75" stroke="#4d7fb5" stroke-width="0.9"/>
<line x1="250.50" y1="468.38" x2="250.50" y2="471.05" stroke="#4d7fb5" stroke-width="0.9"/>
<line x1="248.90" y1="468.38" x2="252.10" y2="468.38" stroke="#4d7fb5" stroke-width="0.9"/>
<line x1="248.90" y1="471.05" x2="252.10" y2="471.05" stroke="#4d7fb5" stroke-width="0.9"/>
<line x1="277.35" y1="476.39" x2="277.35" y2="479.06" stroke="#4d7fb5" stroke-width="0.9"/>
<line x1="275.75" y1="476.39" x2="278.95" y2="476.39" stroke="#4d7fb5" stroke-width="0.9"/>
<line x1="275.75" y1="479.06" x2="278.95" y2="479.06" stroke="#4d7fb5" stroke-width="0.9"/>
<line x1="223.65" y1="364.78" x2="223.65" y2="399.38" stroke="#7dd67d" stroke-width="0.9"/>
<line x1="222.05" y1="364.78" x2="225.25" y2="364.78" stroke="#7dd67d" stroke-width="0.9"/>
<line x1="222.05" y1="399.38" x2="225.25" y2="399.38" stroke="#7dd67d" stroke-width="0.9"/>
<line x1="250.50" y1="464.64" x2="250.50" y2="468.91" stroke="#7dd67d" stroke-width="0.9"/>
<line x1="248.90" y1="464.64" x2="252.10" y2="464.64" stroke="#7dd67d" stroke-width="0.9"/>
<line x1="248.90" y1="468.91" x2="252.10" y2="468.91" stroke="#7dd67d" stroke-width="0.9"/>
<line x1="277.35" y1="479.59" x2="277.35" y2="481.73" stroke="#7dd67d" stroke-width="0.9"/>
<line x1="275.75" y1="479.59" x2="278.95" y2="479.59" stroke="#7dd67d" stroke-width="0.9"/>
<line x1="275.75" y1="481.73" x2="278.95" y2="481.73" stroke="#7dd67d" stroke-width="0.9"/>
<line x1="223.65" y1="366.92" x2="223.65" y2="396.29" stroke="#e25a78" stroke-width="0.9"/>
<line x1="222.05" y1="366.92" x2="225.25" y2="366.92" stroke="#e25a78" stroke-width="0.9"/>
<line x1="222.05" y1="396.29" x2="225.25" y2="396.29" stroke="#e25a78" stroke-width="0.9"/>
<line x1="250.50" y1="436.87" x2="250.50" y2="443.81" stroke="#e25a78" stroke-width="0.9"/>
<line x1="248.90" y1="436.87" x2="252.10" y2="436.87" stroke="#e25a78" stroke-width="0.9"/>
<line x1="248.90" y1="443.81" x2="252.10" y2="443.81" stroke="#e25a78" stroke-width="0.9"/>
<line x1="277.35" y1="463.57" x2="277.35" y2="470.51" stroke="#e25a78" stroke-width="0.9"/>
<line x1="275.75" y1="463.57" x2="278.95" y2="463.57" stroke="#e25a78" stroke-width="0.9"/>
<line x1="275.75" y1="470.51" x2="278.95" y2="470.51" stroke="#e25a78" stroke-width="0.9"/>
<line x1="223.65" y1="371.19" x2="223.65" y2="390.95" stroke="#9a6cba" stroke-width="0.9"/>
<line x1="222.05" y1="371.19" x2="225.25" y2="371.19" stroke="#9a6cba" stroke-width="0.9"/>
<line x1="222.05" y1="390.95" x2="225.25" y2="390.95" stroke="#9a6cba" stroke-width="0.9"/>
<line x1="250.50" y1="426.19" x2="250.50" y2="435.27" stroke="#9a6cba" stroke-width="0.9"/>
<line x1="248.90" y1="426.19" x2="252.10" y2="426.19" stroke="#9a6cba" stroke-width="0.9"/>
<line x1="248.90" y1="435.27" x2="252.10" y2="435.27" stroke="#9a6cba" stroke-width="0.9"/>
<line x1="277.35" y1="469.44" x2="277.35" y2="474.78" stroke="#9a6cba" stroke-width="0.9"/>
<line x1="275.75" y1="469.44" x2="278.95" y2="469.44" stroke="#9a6cba" stroke-width="0.9"/>
<line x1="275.75" y1="474.78" x2="278.95" y2="474.78" stroke="#9a6cba" stroke-width="0.9"/>
<polyline points="223.65,380.80 250.50,466.77 277.35,480.55" fill="none" stroke="#27a83a" stroke-width="1.5" stroke-linejoin="round"/>
<polyline points="223.65,380.80 250.50,469.55 277.35,477.67" fill="none" stroke="#12508f" stroke-width="1.5" stroke-linejoin="round"/>
<polyline points="223.65,380.80 250.50,440.50 277.35,466.67" fill="none" stroke="#c8102e" stroke-width="1.5" stroke-linejoin="round"/>
<polyline points="223.65,380.80 250.50,430.46 277.35,471.58" fill="none" stroke="#4b1a7c" stroke-width="1.5" stroke-linejoin="round"/>
<path d="M223.65,378.59 L225.86,382.57 L221.44,382.57 Z" fill="#27a83a"/>
<path d="M250.50,464.56 L252.71,468.54 L248.29,468.54 Z" fill="#27a83a"/>
<path d="M277.35,478.34 L279.56,482.32 L275.14,482.32 Z" fill="#27a83a"/>
<rect x="221.90" y="379.04" width="3.51" height="3.51" fill="#12508f"/>
<rect x="248.75" y="467.80" width="3.51" height="3.51" fill="#12508f"/>
<rect x="275.60" y="475.91" width="3.51" height="3.51" fill="#12508f"/>
<circle cx="223.65" cy="380.80" r="1.89" fill="#c8102e"/>
<circle cx="250.50" cy="440.50" r="1.89" fill="#c8102e"/>
<circle cx="277.35" cy="466.67" r="1.89" fill="#c8102e"/>
<circle cx="223.65" cy="380.80" r="1.89" fill="#4b1a7c"/>
<circle cx="250.50" cy="430.46" r="1.89" fill="#4b1a7c"/>
<circle cx="277.35" cy="471.58" r="1.89" fill="#4b1a7c"/>
<rect x="221.96" y="379.11" width="3.38" height="3.38" fill="#3a2a7a"/>
<text x="307.60" y="349.70" font-size="10.8" fill="#000" stroke="#000" stroke-width="0.5" text-anchor="start" font-weight="bold" >E</text>
<text x="358.30" y="357.50" font-size="8.8" fill="#231f20" stroke="#231f20" stroke-width="0.12" text-anchor="start" font-weight="normal" >Hydroxyurea (HU)</text>
<line x1="351.05" y1="365.5" x2="351.05" y2="488.79999999999995" stroke="#222" stroke-width="1.4"/>
<line x1="350.35" y1="488.09999999999997" x2="440.65" y2="488.09999999999997" stroke="#222" stroke-width="1.4"/>
<line x1="347.05" y1="488.10" x2="351.05" y2="488.10" stroke="#222" stroke-width="1"/>
<text x="345.05" y="491.00" font-size="8.2" fill="#231f20" stroke="#231f20" stroke-width="0.05" text-anchor="end" font-weight="normal" >0</text>
<line x1="347.05" y1="466.74" x2="351.05" y2="466.74" stroke="#222" stroke-width="1"/>
<text x="345.05" y="469.64" font-size="8.2" fill="#231f20" stroke="#231f20" stroke-width="0.05" text-anchor="end" font-weight="normal" >20</text>
<line x1="347.05" y1="445.38" x2="351.05" y2="445.38" stroke="#222" stroke-width="1"/>
<text x="345.05" y="448.28" font-size="8.2" fill="#231f20" stroke="#231f20" stroke-width="0.05" text-anchor="end" font-weight="normal" >40</text>
<line x1="347.05" y1="424.02" x2="351.05" y2="424.02" stroke="#222" stroke-width="1"/>
<text x="345.05" y="426.92" font-size="8.2" fill="#231f20" stroke="#231f20" stroke-width="0.05" text-anchor="end" font-weight="normal" >60</text>
<line x1="347.05" y1="402.66" x2="351.05" y2="402.66" stroke="#222" stroke-width="1"/>
<text x="345.05" y="405.56" font-size="8.2" fill="#231f20" stroke="#231f20" stroke-width="0.05" text-anchor="end" font-weight="normal" >80</text>
<line x1="347.05" y1="381.30" x2="351.05" y2="381.30" stroke="#222" stroke-width="1"/>
<text x="345.05" y="384.20" font-size="8.2" fill="#231f20" stroke="#231f20" stroke-width="0.05" text-anchor="end" font-weight="normal" >100</text>
<line x1="368.95" y1="488.09999999999997" x2="368.95" y2="490.7" stroke="#222" stroke-width="1"/>
<text x="368.95" y="500.00" font-size="8.2" fill="#231f20" stroke="#231f20" stroke-width="0.05" text-anchor="middle" font-weight="normal" >0</text>
<line x1="395.95" y1="488.09999999999997" x2="395.95" y2="490.7" stroke="#222" stroke-width="1"/>
<text x="395.95" y="500.00" font-size="8.2" fill="#231f20" stroke="#231f20" stroke-width="0.05" text-anchor="middle" font-weight="normal" >15</text>
<line x1="422.95" y1="488.09999999999997" x2="422.95" y2="490.7" stroke="#222" stroke-width="1"/>
<text x="422.95" y="500.00" font-size="8.2" fill="#231f20" stroke="#231f20" stroke-width="0.05" text-anchor="middle" font-weight="normal" >30</text>
<text transform="translate(394.34999999999997,509.59999999999997) scale(0.76,1)" font-size="8.6" fill="#231f20" stroke="#231f20" stroke-width="0.35" text-anchor="middle">HU (µM)</text>
<text transform="translate(314.85,425) rotate(-90) scale(0.72,1)" font-size="8.6" fill="#231f20" stroke="#231f20" stroke-width="0.35" text-anchor="middle">% CFU Survival</text>
<text transform="translate(325.15000000000003,425.3) rotate(-90) scale(0.75,1)" font-size="8.6" fill="#231f20" stroke="#231f20" stroke-width="0.35" text-anchor="middle">(Relative to vehicle)</text>
<line x1="368.95" y1="365.28" x2="368.95" y2="395.72" stroke="#4d7fb5" stroke-width="0.9"/>
<line x1="367.35" y1="365.28" x2="370.55" y2="365.28" stroke="#4d7fb5" stroke-width="0.9"/>
<line x1="367.35" y1="395.72" x2="370.55" y2="395.72" stroke="#4d7fb5" stroke-width="0.9"/>
<line x1="395.95" y1="390.91" x2="395.95" y2="401.59" stroke="#4d7fb5" stroke-width="0.9"/>
<line x1="394.35" y1="390.91" x2="397.55" y2="390.91" stroke="#4d7fb5" stroke-width="0.9"/>
<line x1="394.35" y1="401.59" x2="397.55" y2="401.59" stroke="#4d7fb5" stroke-width="0.9"/>
<line x1="422.95" y1="445.38" x2="422.95" y2="466.21" stroke="#4d7fb5" stroke-width="0.9"/>
<line x1="421.35" y1="445.38" x2="424.55" y2="445.38" stroke="#4d7fb5" stroke-width="0.9"/>
<line x1="421.35" y1="466.21" x2="424.55" y2="466.21" stroke="#4d7fb5" stroke-width="0.9"/>
<line x1="368.95" y1="364.85" x2="368.95" y2="399.35" stroke="#7dd67d" stroke-width="0.9"/>
<line x1="367.35" y1="364.85" x2="370.55" y2="364.85" stroke="#7dd67d" stroke-width="0.9"/>
<line x1="367.35" y1="399.35" x2="370.55" y2="399.35" stroke="#7dd67d" stroke-width="0.9"/>
<line x1="395.95" y1="375.85" x2="395.95" y2="415.37" stroke="#7dd67d" stroke-width="0.9"/>
<line x1="394.35" y1="375.85" x2="397.55" y2="375.85" stroke="#7dd67d" stroke-width="0.9"/>
<line x1="394.35" y1="415.37" x2="397.55" y2="415.37" stroke="#7dd67d" stroke-width="0.9"/>
<line x1="422.95" y1="432.56" x2="422.95" y2="442.18" stroke="#7dd67d" stroke-width="0.9"/>
<line x1="421.35" y1="432.56" x2="424.55" y2="432.56" stroke="#7dd67d" stroke-width="0.9"/>
<line x1="421.35" y1="442.18" x2="424.55" y2="442.18" stroke="#7dd67d" stroke-width="0.9"/>
<line x1="368.95" y1="367.42" x2="368.95" y2="396.25" stroke="#e25a78" stroke-width="0.9"/>
<line x1="367.35" y1="367.42" x2="370.55" y2="367.42" stroke="#e25a78" stroke-width="0.9"/>
<line x1="367.35" y1="396.25" x2="370.55" y2="396.25" stroke="#e25a78" stroke-width="0.9"/>
<line x1="395.95" y1="382.15" x2="395.95" y2="416.76" stroke="#e25a78" stroke-width="0.9"/>
<line x1="394.35" y1="382.15" x2="397.55" y2="382.15" stroke="#e25a78" stroke-width="0.9"/>
<line x1="394.35" y1="416.76" x2="397.55" y2="416.76" stroke="#e25a78" stroke-width="0.9"/>
<line x1="422.95" y1="439.51" x2="422.95" y2="448.58" stroke="#e25a78" stroke-width="0.9"/>
<line x1="421.35" y1="439.51" x2="424.55" y2="439.51" stroke="#e25a78" stroke-width="0.9"/>
<line x1="421.35" y1="448.58" x2="424.55" y2="448.58" stroke="#e25a78" stroke-width="0.9"/>
<line x1="368.95" y1="371.37" x2="368.95" y2="389.74" stroke="#9a6cba" stroke-width="0.9"/>
<line x1="367.35" y1="371.37" x2="370.55" y2="371.37" stroke="#9a6cba" stroke-width="0.9"/>
<line x1="367.35" y1="389.74" x2="370.55" y2="389.74" stroke="#9a6cba" stroke-width="0.9"/>
<line x1="395.95" y1="398.39" x2="395.95" y2="411.20" stroke="#9a6cba" stroke-width="0.9"/>
<line x1="394.35" y1="398.39" x2="397.55" y2="398.39" stroke="#9a6cba" stroke-width="0.9"/>
<line x1="394.35" y1="411.20" x2="397.55" y2="411.20" stroke="#9a6cba" stroke-width="0.9"/>
<line x1="422.95" y1="423.06" x2="422.95" y2="441.11" stroke="#9a6cba" stroke-width="0.9"/>
<line x1="421.35" y1="423.06" x2="424.55" y2="423.06" stroke="#9a6cba" stroke-width="0.9"/>
<line x1="421.35" y1="441.11" x2="424.55" y2="441.11" stroke="#9a6cba" stroke-width="0.9"/>
<polyline points="368.95,381.30 395.95,394.97 422.95,437.48" fill="none" stroke="#27a83a" stroke-width="1.5" stroke-linejoin="round"/>
<polyline points="368.95,381.30 395.95,395.50 422.95,455.85" fill="none" stroke="#12508f" stroke-width="1.5" stroke-linejoin="round"/>
<polyline points="368.95,381.30 395.95,399.35 422.95,444.42" fill="none" stroke="#c8102e" stroke-width="1.5" stroke-linejoin="round"/>
<polyline points="368.95,381.30 395.95,404.16 422.95,432.24" fill="none" stroke="#4b1a7c" stroke-width="1.5" stroke-linejoin="round"/>
<path d="M368.95,379.09 L371.16,383.07 L366.74,383.07 Z" fill="#27a83a"/>
<path d="M395.95,392.76 L398.16,396.74 L393.74,396.74 Z" fill="#27a83a"/>
<path d="M422.95,435.27 L425.16,439.24 L420.74,439.24 Z" fill="#27a83a"/>
<rect x="367.19" y="379.54" width="3.51" height="3.51" fill="#12508f"/>
<rect x="394.19" y="393.75" width="3.51" height="3.51" fill="#12508f"/>
<rect x="421.19" y="454.09" width="3.51" height="3.51" fill="#12508f"/>
<circle cx="368.95" cy="381.30" r="1.89" fill="#c8102e"/>
<circle cx="395.95" cy="399.35" r="1.89" fill="#c8102e"/>
<circle cx="422.95" cy="444.42" r="1.89" fill="#c8102e"/>
<circle cx="368.95" cy="381.30" r="1.89" fill="#4b1a7c"/>
<circle cx="395.95" cy="404.16" r="1.89" fill="#4b1a7c"/>
<circle cx="422.95" cy="432.24" r="1.89" fill="#4b1a7c"/>
<rect x="367.26" y="379.61" width="3.38" height="3.38" fill="#3a2a7a"/>
<circle cx="448.50" cy="458.50" r="1.67" fill="#d0103a"/>
<text x="453.10" y="461.00" font-size="7.05" fill="#cf2a4a" stroke="#cf2a4a" stroke-width="0.18" text-anchor="start" font-weight="normal" >shLuc/shLuc</text>
<rect x="446.95" y="465.18" width="3.10" height="3.10" fill="#12508f"/>
<text x="453.10" y="469.23" font-size="7.05" fill="#2b5b92" stroke="#2b5b92" stroke-width="0.18" text-anchor="start" font-weight="normal" >shFANCD2/shLuc</text>
<path d="M448.50,473.00 L450.45,476.52 L446.55,476.52 Z" fill="#2fae48"/>
<text x="453.10" y="477.46" font-size="7.05" fill="#39a84a" stroke="#39a84a" stroke-width="0.18" text-anchor="start" font-weight="normal" >shFANCD2/shLNK</text>
<circle cx="448.50" cy="483.19" r="1.67" fill="#5a1f7f"/>
<text x="453.10" y="485.69" font-size="7.05" fill="#6b3c8c" stroke="#6b3c8c" stroke-width="0.18" text-anchor="start" font-weight="normal" >shLuc/shLNK</text>
<rect x="0" y="0" width="1.3" height="516" fill="#000"/>
<rect x="0" y="0" width="520" height="1.1" fill="#000"/>
<rect x="518.8" y="0" width="1.2" height="516" fill="#000"/>
<rect x="0" y="515" width="520" height="1" fill="#000"/>
</svg>
</body></html>
